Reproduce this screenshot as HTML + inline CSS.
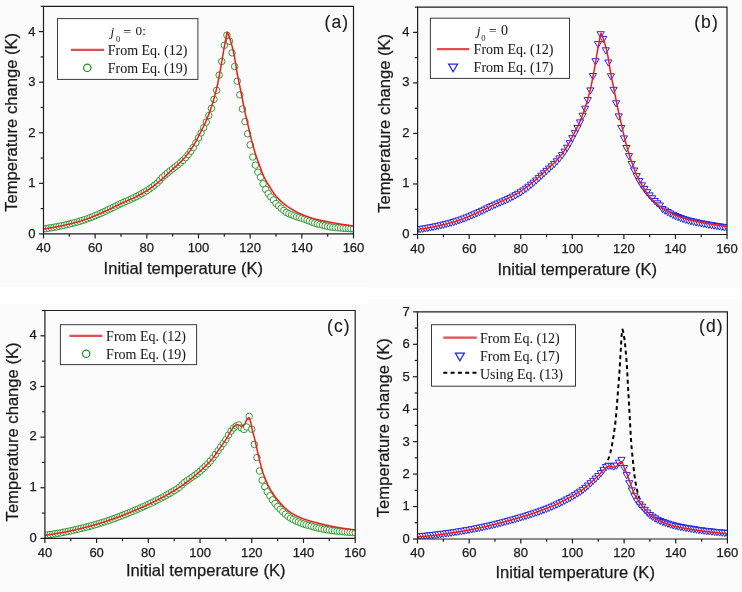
<!DOCTYPE html>
<html><head><meta charset="utf-8"><style>
html,body{margin:0;padding:0;background:#fff;overflow:hidden;}
svg{display:block;filter:blur(0.5px);}
text{stroke:#1a1a1a;stroke-width:0.25px;}
</style></head><body>
<svg width="742" height="592" viewBox="0 0 742 592">
<defs><clipPath id="ca"><rect x="43.5" y="6.31" width="310.00" height="227.59"/></clipPath><clipPath id="cb"><rect x="417.6" y="7.14" width="309.40" height="227.36"/></clipPath><clipPath id="cc"><rect x="44.9" y="310.48" width="310.30" height="227.92"/></clipPath><clipPath id="cd"><rect x="417.5" y="311.85" width="309.90" height="227.15"/></clipPath></defs>
<rect x="0" y="0" width="742" height="592" fill="#ffffff"/>
<rect x="0" y="0" width="368" height="286.6" fill="#fbfbfb"/>
<rect x="368" y="0" width="374" height="287.6" fill="#fbfbfb"/>
<rect x="0" y="304" width="368" height="288" fill="#fbfbfb"/>
<rect x="368" y="299" width="374" height="293" fill="#fbfbfb"/>
<g clip-path="url(#ca)" fill="#fff" stroke="#1c8e1c" stroke-width="0.9"><circle cx="43.50" cy="228.99" r="3.25"/>
<circle cx="46.08" cy="228.61" r="3.25"/>
<circle cx="48.67" cy="228.19" r="3.25"/>
<circle cx="51.25" cy="227.76" r="3.25"/>
<circle cx="53.83" cy="227.30" r="3.25"/>
<circle cx="56.42" cy="226.82" r="3.25"/>
<circle cx="59.00" cy="226.32" r="3.25"/>
<circle cx="61.58" cy="225.79" r="3.25"/>
<circle cx="64.17" cy="225.23" r="3.25"/>
<circle cx="66.75" cy="224.65" r="3.25"/>
<circle cx="69.33" cy="224.04" r="3.25"/>
<circle cx="71.92" cy="223.40" r="3.25"/>
<circle cx="74.50" cy="222.73" r="3.25"/>
<circle cx="77.08" cy="222.03" r="3.25"/>
<circle cx="79.67" cy="221.29" r="3.25"/>
<circle cx="82.25" cy="220.50" r="3.25"/>
<circle cx="84.83" cy="219.64" r="3.25"/>
<circle cx="87.42" cy="218.72" r="3.25"/>
<circle cx="90.00" cy="217.75" r="3.25"/>
<circle cx="92.58" cy="216.74" r="3.25"/>
<circle cx="95.17" cy="215.69" r="3.25"/>
<circle cx="97.75" cy="214.61" r="3.25"/>
<circle cx="100.33" cy="213.47" r="3.25"/>
<circle cx="102.92" cy="212.29" r="3.25"/>
<circle cx="105.50" cy="211.09" r="3.25"/>
<circle cx="108.08" cy="209.88" r="3.25"/>
<circle cx="110.67" cy="208.64" r="3.25"/>
<circle cx="113.25" cy="207.36" r="3.25"/>
<circle cx="115.83" cy="206.07" r="3.25"/>
<circle cx="118.42" cy="204.79" r="3.25"/>
<circle cx="121.00" cy="203.56" r="3.25"/>
<circle cx="123.58" cy="202.38" r="3.25"/>
<circle cx="126.17" cy="201.25" r="3.25"/>
<circle cx="128.75" cy="200.12" r="3.25"/>
<circle cx="131.33" cy="198.97" r="3.25"/>
<circle cx="133.92" cy="197.74" r="3.25"/>
<circle cx="136.50" cy="196.45" r="3.25"/>
<circle cx="139.08" cy="195.11" r="3.25"/>
<circle cx="141.67" cy="193.71" r="3.25"/>
<circle cx="144.25" cy="192.24" r="3.25"/>
<circle cx="146.83" cy="190.66" r="3.25"/>
<circle cx="149.42" cy="188.95" r="3.25"/>
<circle cx="152.00" cy="187.10" r="3.25"/>
<circle cx="154.58" cy="185.15" r="3.25"/>
<circle cx="157.17" cy="183.10" r="3.25"/>
<circle cx="159.75" cy="180.29" r="3.25"/>
<circle cx="162.33" cy="177.40" r="3.25"/>
<circle cx="164.92" cy="175.21" r="3.25"/>
<circle cx="167.50" cy="173.01" r="3.25"/>
<circle cx="170.08" cy="170.86" r="3.25"/>
<circle cx="172.67" cy="168.82" r="3.25"/>
<circle cx="175.25" cy="166.85" r="3.25"/>
<circle cx="177.83" cy="164.86" r="3.25"/>
<circle cx="180.42" cy="162.75" r="3.25"/>
<circle cx="183.00" cy="160.35" r="3.25"/>
<circle cx="185.58" cy="157.61" r="3.25"/>
<circle cx="188.17" cy="154.58" r="3.25"/>
<circle cx="190.75" cy="151.22" r="3.25"/>
<circle cx="193.33" cy="147.42" r="3.25"/>
<circle cx="195.92" cy="142.83" r="3.25"/>
<circle cx="198.50" cy="137.81" r="3.25"/>
<circle cx="201.08" cy="132.85" r="3.25"/>
<circle cx="203.67" cy="127.69" r="3.25"/>
<circle cx="206.25" cy="122.13" r="3.25"/>
<circle cx="208.83" cy="115.55" r="3.25"/>
<circle cx="211.42" cy="108.33" r="3.25"/>
<circle cx="214.00" cy="99.37" r="3.25"/>
<circle cx="216.58" cy="90.27" r="3.25"/>
<circle cx="219.17" cy="75.09" r="3.25"/>
<circle cx="221.75" cy="61.44" r="3.25"/>
<circle cx="224.33" cy="45.26" r="3.25"/>
<circle cx="226.92" cy="35.14" r="3.25"/>
<circle cx="229.50" cy="41.21" r="3.25"/>
<circle cx="232.08" cy="52.84" r="3.25"/>
<circle cx="234.67" cy="66.50" r="3.25"/>
<circle cx="237.25" cy="81.16" r="3.25"/>
<circle cx="239.83" cy="94.82" r="3.25"/>
<circle cx="242.42" cy="108.98" r="3.25"/>
<circle cx="245.00" cy="121.62" r="3.25"/>
<circle cx="247.58" cy="133.76" r="3.25"/>
<circle cx="250.17" cy="144.89" r="3.25"/>
<circle cx="252.75" cy="157.03" r="3.25"/>
<circle cx="255.33" cy="165.12" r="3.25"/>
<circle cx="257.92" cy="172.20" r="3.25"/>
<circle cx="260.50" cy="177.26" r="3.25"/>
<circle cx="263.08" cy="183.83" r="3.25"/>
<circle cx="265.67" cy="189.39" r="3.25"/>
<circle cx="268.25" cy="193.44" r="3.25"/>
<circle cx="270.83" cy="196.98" r="3.25"/>
<circle cx="273.42" cy="200.01" r="3.25"/>
<circle cx="276.00" cy="203.56" r="3.25"/>
<circle cx="278.58" cy="205.83" r="3.25"/>
<circle cx="281.17" cy="208.11" r="3.25"/>
<circle cx="283.75" cy="210.38" r="3.25"/>
<circle cx="286.33" cy="212.41" r="3.25"/>
<circle cx="288.92" cy="213.67" r="3.25"/>
<circle cx="291.50" cy="214.68" r="3.25"/>
<circle cx="294.08" cy="215.69" r="3.25"/>
<circle cx="296.67" cy="216.70" r="3.25"/>
<circle cx="299.25" cy="217.46" r="3.25"/>
<circle cx="301.83" cy="218.22" r="3.25"/>
<circle cx="304.42" cy="219.13" r="3.25"/>
<circle cx="307.00" cy="220.11" r="3.25"/>
<circle cx="309.58" cy="221.09" r="3.25"/>
<circle cx="312.17" cy="222.11" r="3.25"/>
<circle cx="314.75" cy="223.03" r="3.25"/>
<circle cx="317.33" cy="223.79" r="3.25"/>
<circle cx="319.92" cy="224.47" r="3.25"/>
<circle cx="322.50" cy="225.12" r="3.25"/>
<circle cx="325.08" cy="225.75" r="3.25"/>
<circle cx="327.67" cy="226.31" r="3.25"/>
<circle cx="330.25" cy="226.82" r="3.25"/>
<circle cx="332.83" cy="227.26" r="3.25"/>
<circle cx="335.42" cy="227.56" r="3.25"/>
<circle cx="338.00" cy="227.79" r="3.25"/>
<circle cx="340.58" cy="227.98" r="3.25"/>
<circle cx="343.17" cy="228.17" r="3.25"/>
<circle cx="345.75" cy="228.34" r="3.25"/>
<circle cx="348.33" cy="228.51" r="3.25"/>
<circle cx="350.92" cy="228.68" r="3.25"/>
<circle cx="353.50" cy="228.84" r="3.25"/></g>
<polyline points="43.50,228.99 43.76,228.96 44.02,228.92 44.28,228.88 44.53,228.84 44.79,228.80 45.05,228.76 45.31,228.73 45.57,228.69 45.83,228.65 46.09,228.61 46.34,228.57 46.60,228.53 46.86,228.48 47.12,228.44 47.38,228.40 47.64,228.36 47.90,228.32 48.15,228.28 48.41,228.24 48.67,228.19 48.93,228.15 49.19,228.11 49.45,228.06 49.71,228.02 49.96,227.98 50.22,227.93 50.48,227.89 50.74,227.84 51.00,227.80 51.26,227.76 51.52,227.71 51.77,227.67 52.03,227.62 52.29,227.57 52.55,227.53 52.81,227.48 53.07,227.44 53.32,227.39 53.58,227.34 53.84,227.30 54.10,227.25 54.36,227.20 54.62,227.15 54.88,227.11 55.13,227.06 55.39,227.01 55.65,226.96 55.91,226.91 56.17,226.87 56.43,226.82 56.69,226.77 56.94,226.72 57.20,226.67 57.46,226.62 57.72,226.57 57.98,226.52 58.24,226.47 58.50,226.42 58.75,226.37 59.01,226.31 59.27,226.26 59.53,226.21 59.79,226.16 60.05,226.11 60.31,226.05 60.56,226.00 60.82,225.95 61.08,225.89 61.34,225.84 61.60,225.78 61.86,225.73 62.12,225.68 62.37,225.62 62.63,225.57 62.89,225.51 63.15,225.45 63.41,225.40 63.67,225.34 63.93,225.28 64.18,225.23 64.44,225.17 64.70,225.11 64.96,225.06 65.22,225.00 65.48,224.94 65.74,224.88 65.99,224.82 66.25,224.76 66.51,224.70 66.77,224.64 67.03,224.58 67.29,224.52 67.55,224.46 67.80,224.40 68.06,224.34 68.32,224.28 68.58,224.22 68.84,224.16 69.10,224.09 69.35,224.03 69.61,223.97 69.87,223.91 70.13,223.84 70.39,223.78 70.65,223.72 70.91,223.65 71.16,223.59 71.42,223.53 71.68,223.46 71.94,223.40 72.20,223.33 72.46,223.26 72.72,223.20 72.97,223.13 73.23,223.07 73.49,223.00 73.75,222.93 74.01,222.86 74.27,222.80 74.53,222.73 74.78,222.66 75.04,222.59 75.30,222.52 75.56,222.45 75.82,222.38 76.08,222.31 76.34,222.24 76.59,222.17 76.85,222.10 77.11,222.02 77.37,221.95 77.63,221.88 77.89,221.81 78.15,221.73 78.40,221.66 78.66,221.58 78.92,221.51 79.18,221.43 79.44,221.36 79.70,221.28 79.96,221.20 80.21,221.12 80.47,221.05 80.73,220.97 80.99,220.89 81.25,220.81 81.51,220.73 81.77,220.65 82.02,220.57 82.28,220.49 82.54,220.41 82.80,220.32 83.06,220.24 83.32,220.15 83.58,220.07 83.83,219.98 84.09,219.90 84.35,219.81 84.61,219.72 84.87,219.63 85.13,219.54 85.38,219.45 85.64,219.36 85.90,219.27 86.16,219.18 86.42,219.09 86.68,218.99 86.94,218.90 87.19,218.81 87.45,218.71 87.71,218.62 87.97,218.52 88.23,218.42 88.49,218.33 88.75,218.23 89.00,218.13 89.26,218.03 89.52,217.93 89.78,217.84 90.04,217.74 90.30,217.64 90.56,217.54 90.81,217.43 91.07,217.33 91.33,217.23 91.59,217.13 91.85,217.03 92.11,216.93 92.37,216.82 92.62,216.72 92.88,216.62 93.14,216.51 93.40,216.41 93.66,216.30 93.92,216.20 94.18,216.10 94.43,215.99 94.69,215.89 94.95,215.78 95.21,215.68 95.47,215.57 95.73,215.46 95.99,215.36 96.24,215.25 96.50,215.14 96.76,215.03 97.02,214.92 97.28,214.81 97.54,214.70 97.80,214.59 98.05,214.48 98.31,214.36 98.57,214.25 98.83,214.14 99.09,214.02 99.35,213.91 99.61,213.80 99.86,213.68 100.12,213.56 100.38,213.45 100.64,213.33 100.90,213.21 101.16,213.10 101.41,212.98 101.67,212.86 101.93,212.74 102.19,212.63 102.45,212.51 102.71,212.39 102.97,212.27 103.22,212.15 103.48,212.03 103.74,211.91 104.00,211.79 104.26,211.67 104.52,211.55 104.78,211.43 105.03,211.31 105.29,211.19 105.55,211.06 105.81,210.94 106.07,210.82 106.33,210.70 106.59,210.58 106.84,210.46 107.10,210.34 107.36,210.22 107.62,210.09 107.88,209.97 108.14,209.85 108.40,209.73 108.65,209.61 108.91,209.48 109.17,209.36 109.43,209.24 109.69,209.11 109.95,208.99 110.21,208.86 110.46,208.74 110.72,208.61 110.98,208.48 111.24,208.36 111.50,208.23 111.76,208.10 112.02,207.97 112.27,207.85 112.53,207.72 112.79,207.59 113.05,207.46 113.31,207.33 113.57,207.20 113.83,207.07 114.08,206.94 114.34,206.82 114.60,206.69 114.86,206.56 115.12,206.43 115.38,206.30 115.64,206.17 115.89,206.04 116.15,205.91 116.41,205.78 116.67,205.66 116.93,205.53 117.19,205.40 117.44,205.27 117.70,205.14 117.96,205.02 118.22,204.89 118.48,204.76 118.74,204.64 119.00,204.51 119.25,204.39 119.51,204.26 119.77,204.14 120.03,204.01 120.29,203.89 120.55,203.77 120.81,203.65 121.06,203.52 121.32,203.40 121.58,203.28 121.84,203.17 122.10,203.05 122.36,202.93 122.62,202.81 122.87,202.70 123.13,202.58 123.39,202.46 123.65,202.35 123.91,202.23 124.17,202.12 124.43,202.01 124.68,201.89 124.94,201.78 125.20,201.67 125.46,201.56 125.72,201.44 125.98,201.33 126.24,201.22 126.49,201.11 126.75,200.99 127.01,200.88 127.27,200.77 127.53,200.66 127.79,200.55 128.05,200.43 128.30,200.32 128.56,200.21 128.82,200.09 129.08,199.98 129.34,199.87 129.60,199.75 129.86,199.64 130.11,199.52 130.37,199.40 130.63,199.29 130.89,199.17 131.15,199.05 131.41,198.93 131.67,198.81 131.92,198.69 132.18,198.57 132.44,198.45 132.70,198.33 132.96,198.21 133.22,198.08 133.47,197.96 133.73,197.83 133.99,197.70 134.25,197.57 134.51,197.45 134.77,197.32 135.03,197.19 135.28,197.06 135.54,196.93 135.80,196.80 136.06,196.67 136.32,196.54 136.58,196.41 136.84,196.28 137.09,196.14 137.35,196.01 137.61,195.88 137.87,195.74 138.13,195.61 138.39,195.48 138.65,195.34 138.90,195.21 139.16,195.07 139.42,194.93 139.68,194.79 139.94,194.66 140.20,194.52 140.46,194.38 140.71,194.24 140.97,194.10 141.23,193.95 141.49,193.81 141.75,193.67 142.01,193.52 142.27,193.38 142.52,193.23 142.78,193.09 143.04,192.94 143.30,192.79 143.56,192.64 143.82,192.49 144.08,192.34 144.33,192.19 144.59,192.03 144.85,191.88 145.11,191.72 145.37,191.57 145.63,191.41 145.89,191.25 146.14,191.09 146.40,190.93 146.66,190.77 146.92,190.60 147.18,190.44 147.44,190.27 147.70,190.10 147.95,189.93 148.21,189.76 148.47,189.59 148.73,189.42 148.99,189.24 149.25,189.07 149.51,188.89 149.76,188.71 150.02,188.53 150.28,188.34 150.54,188.16 150.80,187.98 151.06,187.79 151.31,187.60 151.57,187.42 151.83,187.23 152.09,187.04 152.35,186.84 152.61,186.65 152.87,186.46 153.12,186.26 153.38,186.07 153.64,185.87 153.90,185.67 154.16,185.47 154.42,185.27 154.68,185.07 154.93,184.87 155.19,184.67 155.45,184.47 155.71,184.26 155.97,184.06 156.23,183.85 156.49,183.65 156.74,183.44 157.00,183.23 157.26,183.03 157.52,182.82 157.78,182.61 158.04,182.40 158.30,182.19 158.55,181.98 158.81,181.77 159.07,181.56 159.33,181.34 159.59,181.13 159.85,180.92 160.11,180.70 160.36,180.49 160.62,180.27 160.88,180.05 161.14,179.83 161.40,179.61 161.66,179.38 161.92,179.16 162.17,178.93 162.43,178.70 162.69,178.47 162.95,178.24 163.21,178.01 163.47,177.77 163.73,177.54 163.98,177.30 164.24,177.07 164.50,176.83 164.76,176.59 165.02,176.35 165.28,176.11 165.54,175.87 165.79,175.63 166.05,175.39 166.31,175.15 166.57,174.90 166.83,174.66 167.09,174.42 167.34,174.17 167.60,173.93 167.86,173.68 168.12,173.44 168.38,173.19 168.64,172.95 168.90,172.70 169.15,172.46 169.41,172.21 169.67,171.97 169.93,171.73 170.19,171.48 170.45,171.24 170.71,170.99 170.96,170.75 171.22,170.51 171.48,170.27 171.74,170.02 172.00,169.78 172.26,169.54 172.52,169.30 172.77,169.06 173.03,168.83 173.29,168.59 173.55,168.36 173.81,168.13 174.07,167.90 174.33,167.67 174.58,167.44 174.84,167.21 175.10,166.98 175.36,166.75 175.62,166.53 175.88,166.30 176.14,166.07 176.39,165.85 176.65,165.62 176.91,165.39 177.17,165.17 177.43,164.94 177.69,164.71 177.95,164.48 178.20,164.25 178.46,164.01 178.72,163.78 178.98,163.54 179.24,163.30 179.50,163.07 179.76,162.82 180.01,162.58 180.27,162.33 180.53,162.09 180.79,161.83 181.05,161.58 181.31,161.32 181.57,161.06 181.82,160.80 182.08,160.53 182.34,160.26 182.60,159.99 182.86,159.71 183.12,159.43 183.37,159.14 183.63,158.86 183.89,158.56 184.15,158.27 184.41,157.98 184.67,157.68 184.93,157.38 185.18,157.07 185.44,156.77 185.70,156.46 185.96,156.14 186.22,155.83 186.48,155.51 186.74,155.19 186.99,154.86 187.25,154.53 187.51,154.20 187.77,153.87 188.03,153.53 188.29,153.19 188.55,152.85 188.80,152.50 189.06,152.15 189.32,151.80 189.58,151.44 189.84,151.09 190.10,150.72 190.36,150.36 190.61,149.99 190.87,149.62 191.13,149.24 191.39,148.86 191.65,148.48 191.91,148.09 192.17,147.70 192.42,147.31 192.68,146.91 192.94,146.51 193.20,146.11 193.46,145.70 193.72,145.28 193.98,144.85 194.23,144.41 194.49,143.95 194.75,143.49 195.01,143.02 195.27,142.54 195.53,142.05 195.79,141.56 196.04,141.07 196.30,140.57 196.56,140.06 196.82,139.56 197.08,139.05 197.34,138.55 197.60,138.04 197.85,137.54 198.11,137.04 198.37,136.54 198.63,136.04 198.89,135.55 199.15,135.06 199.40,134.56 199.66,134.07 199.92,133.57 200.18,133.08 200.44,132.58 200.70,132.08 200.96,131.58 201.21,131.08 201.47,130.57 201.73,130.06 201.99,129.56 202.25,129.04 202.51,128.53 202.77,128.01 203.02,127.49 203.28,126.96 203.54,126.43 203.80,125.90 204.06,125.37 204.32,124.83 204.58,124.29 204.83,123.74 205.09,123.19 205.35,122.63 205.61,122.07 205.87,121.49 206.13,120.90 206.39,120.29 206.64,119.67 206.90,119.04 207.16,118.39 207.42,117.74 207.68,117.07 207.94,116.40 208.20,115.72 208.45,115.04 208.71,114.36 208.97,113.67 209.23,112.99 209.49,112.31 209.75,111.63 210.01,110.94 210.26,110.24 210.52,109.53 210.78,108.81 211.04,108.07 211.30,107.31 211.56,106.53 211.82,105.73 212.07,104.91 212.33,104.07 212.59,103.22 212.85,102.35 213.11,101.46 213.37,100.57 213.63,99.67 213.88,98.77 214.14,97.86 214.40,96.95 214.66,96.05 214.92,95.13 215.18,94.20 215.43,93.26 215.69,92.30 215.95,91.30 216.21,90.28 216.47,89.23 216.73,88.13 216.99,86.98 217.24,85.79 217.50,84.56 217.76,83.30 218.02,82.00 218.28,80.69 218.54,79.36 218.80,78.03 219.05,76.69 219.31,75.34 219.57,73.99 219.83,72.61 220.09,71.21 220.35,69.80 220.61,68.37 220.86,66.93 221.12,65.49 221.38,64.03 221.64,62.57 221.90,61.10 222.16,59.59 222.42,58.06 222.67,56.51 222.93,54.96 223.19,53.40 223.45,51.86 223.71,50.33 223.97,48.83 224.23,47.37 224.48,45.95 224.74,44.54 225.00,43.15 225.26,41.77 225.52,40.41 225.78,39.07 226.04,37.74 226.29,36.43 226.55,35.14 226.81,33.87 227.07,32.61 227.33,32.41 227.59,32.95 227.85,33.52 228.10,34.11 228.36,34.74 228.62,35.39 228.88,36.06 229.14,36.76 229.40,37.48 229.66,38.23 229.91,38.99 230.17,39.77 230.43,40.57 230.69,41.39 230.95,42.22 231.21,43.09 231.46,43.98 231.72,44.91 231.98,45.87 232.24,46.86 232.50,47.89 232.76,48.94 233.02,50.03 233.27,51.16 233.53,52.32 233.79,53.51 234.05,54.74 234.31,56.02 234.57,57.42 234.83,58.93 235.08,60.51 235.34,62.16 235.60,63.84 235.86,65.53 236.12,67.21 236.38,68.85 236.64,70.43 236.89,71.93 237.15,73.33 237.41,74.69 237.67,76.01 237.93,77.29 238.19,78.56 238.45,79.80 238.70,81.03 238.96,82.26 239.22,83.48 239.48,84.71 239.74,85.96 240.00,87.22 240.26,88.50 240.51,89.80 240.77,91.10 241.03,92.41 241.29,93.71 241.55,95.02 241.81,96.32 242.07,97.62 242.32,98.91 242.58,100.19 242.84,101.48 243.10,102.77 243.36,104.06 243.62,105.35 243.88,106.63 244.13,107.89 244.39,109.15 244.65,110.38 244.91,111.59 245.17,112.79 245.43,113.96 245.69,115.11 245.94,116.26 246.20,117.39 246.46,118.51 246.72,119.62 246.98,120.72 247.24,121.83 247.49,122.93 247.75,124.03 248.01,125.14 248.27,126.25 248.53,127.37 248.79,128.50 249.05,129.63 249.30,130.75 249.56,131.87 249.82,132.99 250.08,134.09 250.34,135.18 250.60,136.25 250.86,137.30 251.11,138.33 251.37,139.34 251.63,140.34 251.89,141.33 252.15,142.32 252.41,143.29 252.67,144.26 252.92,145.21 253.18,146.15 253.44,147.08 253.70,148.00 253.96,148.91 254.22,149.80 254.48,150.68 254.73,151.54 254.99,152.39 255.25,153.23 255.51,154.04 255.77,154.84 256.03,155.63 256.29,156.40 256.54,157.15 256.80,157.90 257.06,158.63 257.32,159.36 257.58,160.08 257.84,160.79 258.10,161.50 258.35,162.21 258.61,162.91 258.87,163.61 259.13,164.31 259.39,165.01 259.65,165.71 259.91,166.42 260.16,167.14 260.42,167.86 260.68,168.60 260.94,169.34 261.20,170.08 261.46,170.81 261.72,171.53 261.97,172.23 262.23,172.92 262.49,173.58 262.75,174.21 263.01,174.81 263.27,175.38 263.53,175.93 263.78,176.47 264.04,177.00 264.30,177.52 264.56,178.03 264.82,178.53 265.08,179.02 265.33,179.50 265.59,179.97 265.85,180.44 266.11,180.90 266.37,181.35 266.63,181.79 266.89,182.23 267.14,182.67 267.40,183.10 267.66,183.52 267.92,183.94 268.18,184.36 268.44,184.78 268.70,185.20 268.95,185.61 269.21,186.02 269.47,186.43 269.73,186.85 269.99,187.26 270.25,187.67 270.51,188.09 270.76,188.50 271.02,188.91 271.28,189.32 271.54,189.73 271.80,190.14 272.06,190.54 272.32,190.94 272.57,191.34 272.83,191.73 273.09,192.12 273.35,192.50 273.61,192.88 273.87,193.25 274.13,193.62 274.38,193.98 274.64,194.33 274.90,194.68 275.16,195.02 275.42,195.35 275.68,195.68 275.94,195.99 276.19,196.30 276.45,196.60 276.71,196.90 276.97,197.19 277.23,197.48 277.49,197.77 277.75,198.05 278.00,198.32 278.26,198.59 278.52,198.86 278.78,199.13 279.04,199.39 279.30,199.64 279.56,199.90 279.81,200.15 280.07,200.39 280.33,200.64 280.59,200.88 280.85,201.12 281.11,201.35 281.36,201.58 281.62,201.82 281.88,202.04 282.14,202.27 282.40,202.49 282.66,202.71 282.92,202.93 283.17,203.15 283.43,203.37 283.69,203.58 283.95,203.79 284.21,204.00 284.47,204.20 284.73,204.41 284.98,204.61 285.24,204.81 285.50,205.01 285.76,205.20 286.02,205.39 286.28,205.58 286.54,205.77 286.79,205.96 287.05,206.14 287.31,206.32 287.57,206.50 287.83,206.68 288.09,206.85 288.35,207.03 288.60,207.20 288.86,207.36 289.12,207.53 289.38,207.70 289.64,207.86 289.90,208.02 290.16,208.19 290.41,208.35 290.67,208.51 290.93,208.67 291.19,208.83 291.45,208.99 291.71,209.14 291.97,209.30 292.22,209.45 292.48,209.61 292.74,209.76 293.00,209.91 293.26,210.07 293.52,210.22 293.78,210.37 294.03,210.51 294.29,210.66 294.55,210.81 294.81,210.95 295.07,211.10 295.33,211.24 295.59,211.38 295.84,211.52 296.10,211.66 296.36,211.80 296.62,211.94 296.88,212.07 297.14,212.21 297.39,212.34 297.65,212.47 297.91,212.60 298.17,212.73 298.43,212.86 298.69,212.99 298.95,213.11 299.20,213.24 299.46,213.36 299.72,213.48 299.98,213.60 300.24,213.72 300.50,213.84 300.76,213.96 301.01,214.07 301.27,214.19 301.53,214.30 301.79,214.41 302.05,214.52 302.31,214.63 302.57,214.74 302.82,214.84 303.08,214.95 303.34,215.06 303.60,215.16 303.86,215.27 304.12,215.37 304.38,215.47 304.63,215.57 304.89,215.67 305.15,215.78 305.41,215.87 305.67,215.97 305.93,216.07 306.19,216.17 306.44,216.27 306.70,216.36 306.96,216.46 307.22,216.55 307.48,216.64 307.74,216.74 308.00,216.83 308.25,216.92 308.51,217.01 308.77,217.10 309.03,217.19 309.29,217.27 309.55,217.36 309.81,217.45 310.06,217.53 310.32,217.61 310.58,217.70 310.84,217.78 311.10,217.86 311.36,217.94 311.62,218.02 311.87,218.10 312.13,218.18 312.39,218.26 312.65,218.34 312.91,218.41 313.17,218.49 313.42,218.56 313.68,218.64 313.94,218.71 314.20,218.78 314.46,218.85 314.72,218.92 314.98,218.99 315.23,219.06 315.49,219.13 315.75,219.19 316.01,219.26 316.27,219.33 316.53,219.39 316.79,219.45 317.04,219.52 317.30,219.58 317.56,219.64 317.82,219.71 318.08,219.77 318.34,219.83 318.60,219.89 318.85,219.95 319.11,220.01 319.37,220.06 319.63,220.12 319.89,220.18 320.15,220.24 320.41,220.29 320.66,220.35 320.92,220.40 321.18,220.46 321.44,220.51 321.70,220.57 321.96,220.62 322.22,220.68 322.47,220.73 322.73,220.78 322.99,220.84 323.25,220.89 323.51,220.94 323.77,220.99 324.03,221.05 324.28,221.10 324.54,221.15 324.80,221.20 325.06,221.25 325.32,221.30 325.58,221.35 325.84,221.40 326.09,221.45 326.35,221.51 326.61,221.56 326.87,221.61 327.13,221.66 327.39,221.71 327.65,221.76 327.90,221.81 328.16,221.86 328.42,221.91 328.68,221.96 328.94,222.01 329.20,222.06 329.45,222.11 329.71,222.15 329.97,222.20 330.23,222.25 330.49,222.30 330.75,222.35 331.01,222.39 331.26,222.44 331.52,222.49 331.78,222.54 332.04,222.58 332.30,222.63 332.56,222.67 332.82,222.72 333.07,222.77 333.33,222.81 333.59,222.86 333.85,222.90 334.11,222.95 334.37,222.99 334.63,223.04 334.88,223.08 335.14,223.13 335.40,223.17 335.66,223.22 335.92,223.26 336.18,223.30 336.44,223.35 336.69,223.39 336.95,223.44 337.21,223.48 337.47,223.52 337.73,223.57 337.99,223.61 338.25,223.65 338.50,223.70 338.76,223.74 339.02,223.78 339.28,223.82 339.54,223.87 339.80,223.91 340.06,223.95 340.31,223.99 340.57,224.04 340.83,224.08 341.09,224.12 341.35,224.16 341.61,224.20 341.87,224.25 342.12,224.29 342.38,224.33 342.64,224.37 342.90,224.41 343.16,224.45 343.42,224.50 343.68,224.54 343.93,224.58 344.19,224.62 344.45,224.66 344.71,224.70 344.97,224.74 345.23,224.78 345.48,224.82 345.74,224.86 346.00,224.90 346.26,224.94 346.52,224.98 346.78,225.02 347.04,225.06 347.29,225.10 347.55,225.14 347.81,225.18 348.07,225.22 348.33,225.26 348.59,225.29 348.85,225.33 349.10,225.37 349.36,225.41 349.62,225.45 349.88,225.49 350.14,225.53 350.40,225.56 350.66,225.60 350.91,225.64 351.17,225.68 351.43,225.71 351.69,225.75 351.95,225.79 352.21,225.83 352.47,225.86 352.72,225.90 352.98,225.94 353.24,225.97 353.50,226.01" fill="none" stroke="#ee1c1c" stroke-width="1.5" stroke-linejoin="round"/>
<path d="M43.5,6.3125 H353.5 V233.9 H43.5 Z" fill="none" stroke="#1e1e1e" stroke-width="1.2"/>
<line x1="43.50" y1="233.9" x2="43.50" y2="238.4" stroke="#1e1e1e" stroke-width="1.2"/>
<line x1="95.17" y1="233.9" x2="95.17" y2="238.4" stroke="#1e1e1e" stroke-width="1.2"/>
<line x1="146.83" y1="233.9" x2="146.83" y2="238.4" stroke="#1e1e1e" stroke-width="1.2"/>
<line x1="198.50" y1="233.9" x2="198.50" y2="238.4" stroke="#1e1e1e" stroke-width="1.2"/>
<line x1="250.17" y1="233.9" x2="250.17" y2="238.4" stroke="#1e1e1e" stroke-width="1.2"/>
<line x1="301.83" y1="233.9" x2="301.83" y2="238.4" stroke="#1e1e1e" stroke-width="1.2"/>
<line x1="353.50" y1="233.9" x2="353.50" y2="238.4" stroke="#1e1e1e" stroke-width="1.2"/>
<line x1="69.33" y1="233.9" x2="69.33" y2="236.70000000000002" stroke="#1e1e1e" stroke-width="1.2"/>
<line x1="121.00" y1="233.9" x2="121.00" y2="236.70000000000002" stroke="#1e1e1e" stroke-width="1.2"/>
<line x1="172.67" y1="233.9" x2="172.67" y2="236.70000000000002" stroke="#1e1e1e" stroke-width="1.2"/>
<line x1="224.33" y1="233.9" x2="224.33" y2="236.70000000000002" stroke="#1e1e1e" stroke-width="1.2"/>
<line x1="276.00" y1="233.9" x2="276.00" y2="236.70000000000002" stroke="#1e1e1e" stroke-width="1.2"/>
<line x1="327.67" y1="233.9" x2="327.67" y2="236.70000000000002" stroke="#1e1e1e" stroke-width="1.2"/>
<line x1="39.0" y1="233.90" x2="43.5" y2="233.90" stroke="#1e1e1e" stroke-width="1.2"/>
<line x1="39.0" y1="183.32" x2="43.5" y2="183.32" stroke="#1e1e1e" stroke-width="1.2"/>
<line x1="39.0" y1="132.75" x2="43.5" y2="132.75" stroke="#1e1e1e" stroke-width="1.2"/>
<line x1="39.0" y1="82.17" x2="43.5" y2="82.17" stroke="#1e1e1e" stroke-width="1.2"/>
<line x1="39.0" y1="31.60" x2="43.5" y2="31.60" stroke="#1e1e1e" stroke-width="1.2"/>
<line x1="40.7" y1="208.61" x2="43.5" y2="208.61" stroke="#1e1e1e" stroke-width="1.2"/>
<line x1="40.7" y1="158.04" x2="43.5" y2="158.04" stroke="#1e1e1e" stroke-width="1.2"/>
<line x1="40.7" y1="107.46" x2="43.5" y2="107.46" stroke="#1e1e1e" stroke-width="1.2"/>
<line x1="40.7" y1="56.89" x2="43.5" y2="56.89" stroke="#1e1e1e" stroke-width="1.2"/>
<line x1="40.7" y1="6.31" x2="43.5" y2="6.31" stroke="#1e1e1e" stroke-width="1.2"/>
<text x="43.50" y="252.30" text-anchor="middle" style="font-family:'Liberation Sans',sans-serif;font-size:13px" fill="#1a1a1a">40</text>
<text x="95.17" y="252.30" text-anchor="middle" style="font-family:'Liberation Sans',sans-serif;font-size:13px" fill="#1a1a1a">60</text>
<text x="146.83" y="252.30" text-anchor="middle" style="font-family:'Liberation Sans',sans-serif;font-size:13px" fill="#1a1a1a">80</text>
<text x="198.50" y="252.30" text-anchor="middle" style="font-family:'Liberation Sans',sans-serif;font-size:13px" fill="#1a1a1a">100</text>
<text x="250.17" y="252.30" text-anchor="middle" style="font-family:'Liberation Sans',sans-serif;font-size:13px" fill="#1a1a1a">120</text>
<text x="301.83" y="252.30" text-anchor="middle" style="font-family:'Liberation Sans',sans-serif;font-size:13px" fill="#1a1a1a">140</text>
<text x="353.50" y="252.30" text-anchor="middle" style="font-family:'Liberation Sans',sans-serif;font-size:13px" fill="#1a1a1a">160</text>
<text x="35.60" y="238.00" text-anchor="end" style="font-family:'Liberation Sans',sans-serif;font-size:13px" fill="#1a1a1a">0</text>
<text x="35.60" y="187.42" text-anchor="end" style="font-family:'Liberation Sans',sans-serif;font-size:13px" fill="#1a1a1a">1</text>
<text x="35.60" y="136.85" text-anchor="end" style="font-family:'Liberation Sans',sans-serif;font-size:13px" fill="#1a1a1a">2</text>
<text x="35.60" y="86.27" text-anchor="end" style="font-family:'Liberation Sans',sans-serif;font-size:13px" fill="#1a1a1a">3</text>
<text x="35.60" y="35.70" text-anchor="end" style="font-family:'Liberation Sans',sans-serif;font-size:13px" fill="#1a1a1a">4</text>
<text transform="translate(16.60,211.80) rotate(-90)" style="font-family:'Liberation Sans',sans-serif;font-size:16.6px" fill="#1a1a1a">Temperature change (K)</text>
<text x="103.60" y="273.90" style="font-family:'Liberation Sans',sans-serif;font-size:16.6px" fill="#1a1a1a">Initial temperature (K)</text>
<text x="324.60" y="27.60" style="font-family:'Liberation Sans',sans-serif;font-size:17.5px;letter-spacing:1.1px;stroke-width:0.12px" fill="#1a1a1a">(a)</text>
<rect x="57.5" y="18.6" width="140.4" height="60.8" fill="#fff" stroke="#3a3a3a" stroke-width="1.0"/>
<text x="110.60" y="36.10" style="font-family:'Liberation Serif',serif;stroke-width:0.05px;font-size:13px;font-style:italic" fill="#1a1a1a">j</text><text x="116.00" y="41.70" style="font-family:'Liberation Serif',serif;stroke-width:0.05px;font-size:8.5px" fill="#333">0</text><text x="123.60" y="35.50" style="font-family:'Liberation Serif',serif;stroke-width:0.05px;font-size:13.5px" fill="#1a1a1a">=</text><text x="135.60" y="35.20" style="font-family:'Liberation Serif',serif;stroke-width:0.05px;font-size:13.2px" fill="#1a1a1a">0:</text>
<line x1="70.9" y1="49.9" x2="104.1" y2="49.9" stroke="#dc5252" stroke-width="2.1"/>
<text x="107.70" y="55.10" style="font-family:'Liberation Serif',serif;stroke-width:0.05px;font-size:14px" fill="#1a1a1a">From Eq. (12)</text>
<circle cx="87.3" cy="67.8" r="3.7" fill="none" stroke="#1c8e1c" stroke-width="1.2"/>
<text x="107.70" y="72.80" style="font-family:'Liberation Serif',serif;stroke-width:0.05px;font-size:14px" fill="#1a1a1a">From Eq. (19)</text>
<g clip-path="url(#cb)" fill="#fff" stroke="#2323e6" stroke-width="1.0"><path d="M414.00,227.00 H421.20 L417.60,233.20 Z"/>
<path d="M416.58,226.63 H423.78 L420.18,232.83 Z"/>
<path d="M419.16,226.23 H426.36 L422.76,232.43 Z"/>
<path d="M421.74,225.81 H428.94 L425.34,232.01 Z"/>
<path d="M424.31,225.36 H431.51 L427.91,231.56 Z"/>
<path d="M426.89,224.89 H434.09 L430.49,231.09 Z"/>
<path d="M429.47,224.41 H436.67 L433.07,230.61 Z"/>
<path d="M432.05,223.89 H439.25 L435.65,230.09 Z"/>
<path d="M434.63,223.35 H441.83 L438.23,229.55 Z"/>
<path d="M437.20,222.78 H444.41 L440.81,228.98 Z"/>
<path d="M439.78,222.18 H446.98 L443.38,228.38 Z"/>
<path d="M442.36,221.56 H449.56 L445.96,227.76 Z"/>
<path d="M444.94,220.90 H452.14 L448.54,227.10 Z"/>
<path d="M447.52,220.21 H454.72 L451.12,226.41 Z"/>
<path d="M450.10,219.48 H457.30 L453.70,225.68 Z"/>
<path d="M452.68,218.71 H459.88 L456.28,224.91 Z"/>
<path d="M455.25,217.87 H462.45 L458.85,224.07 Z"/>
<path d="M457.83,216.96 H465.03 L461.43,223.16 Z"/>
<path d="M460.41,216.00 H467.61 L464.01,222.20 Z"/>
<path d="M462.99,215.00 H470.19 L466.59,221.20 Z"/>
<path d="M465.57,213.97 H472.77 L469.17,220.17 Z"/>
<path d="M468.14,212.92 H475.35 L471.75,219.12 Z"/>
<path d="M470.72,211.82 H477.92 L474.32,218.02 Z"/>
<path d="M473.30,210.68 H480.50 L476.90,216.88 Z"/>
<path d="M475.88,209.52 H483.08 L479.48,215.72 Z"/>
<path d="M478.46,208.35 H485.66 L482.06,214.55 Z"/>
<path d="M481.04,207.15 H488.24 L484.64,213.35 Z"/>
<path d="M483.62,205.91 H490.82 L487.22,212.11 Z"/>
<path d="M486.19,204.66 H493.39 L489.79,210.86 Z"/>
<path d="M488.77,203.42 H495.97 L492.37,209.62 Z"/>
<path d="M491.35,202.22 H498.55 L494.95,208.42 Z"/>
<path d="M493.93,201.08 H501.13 L497.53,207.28 Z"/>
<path d="M496.51,199.99 H503.71 L500.11,206.19 Z"/>
<path d="M499.08,198.91 H506.29 L502.69,205.11 Z"/>
<path d="M501.66,197.79 H508.86 L505.26,203.99 Z"/>
<path d="M504.24,196.60 H511.44 L507.84,202.80 Z"/>
<path d="M506.82,195.35 H514.02 L510.42,201.55 Z"/>
<path d="M509.40,194.05 H516.60 L513.00,200.25 Z"/>
<path d="M511.98,192.69 H519.18 L515.58,198.89 Z"/>
<path d="M514.55,191.26 H521.75 L518.15,197.46 Z"/>
<path d="M517.13,189.72 H524.33 L520.73,195.92 Z"/>
<path d="M519.71,188.02 H526.91 L523.31,194.22 Z"/>
<path d="M522.29,186.19 H529.49 L525.89,192.39 Z"/>
<path d="M524.87,184.25 H532.07 L528.47,190.45 Z"/>
<path d="M527.45,182.22 H534.65 L531.05,188.42 Z"/>
<path d="M530.02,180.13 H537.23 L533.62,186.33 Z"/>
<path d="M532.60,177.93 H539.80 L536.20,184.13 Z"/>
<path d="M535.18,175.61 H542.38 L538.78,181.81 Z"/>
<path d="M537.76,173.20 H544.96 L541.36,179.40 Z"/>
<path d="M540.34,170.77 H547.54 L543.94,176.97 Z"/>
<path d="M542.92,168.37 H550.12 L546.52,174.57 Z"/>
<path d="M545.50,166.07 H552.70 L549.10,172.27 Z"/>
<path d="M548.07,163.81 H555.27 L551.67,170.01 Z"/>
<path d="M550.65,161.45 H557.85 L554.25,167.65 Z"/>
<path d="M553.23,158.82 H560.43 L556.83,165.02 Z"/>
<path d="M555.81,155.88 H563.01 L559.41,162.08 Z"/>
<path d="M558.39,152.65 H565.59 L561.99,158.85 Z"/>
<path d="M560.97,149.11 H568.17 L564.57,155.31 Z"/>
<path d="M563.54,145.23 H570.74 L567.14,151.43 Z"/>
<path d="M566.12,140.66 H573.32 L569.72,146.86 Z"/>
<path d="M568.70,135.66 H575.90 L572.30,141.86 Z"/>
<path d="M571.28,130.67 H578.48 L574.88,136.87 Z"/>
<path d="M573.86,125.48 H581.06 L577.46,131.68 Z"/>
<path d="M576.43,119.88 H583.63 L580.03,126.08 Z"/>
<path d="M579.01,113.28 H586.21 L582.61,119.48 Z"/>
<path d="M581.59,106.17 H588.79 L585.19,112.37 Z"/>
<path d="M584.17,97.54 H591.37 L587.77,103.74 Z"/>
<path d="M586.75,87.91 H593.95 L590.35,94.11 Z"/>
<path d="M589.33,73.51 H596.53 L592.93,79.71 Z"/>
<path d="M591.90,58.71 H599.11 L595.50,64.91 Z"/>
<path d="M594.48,41.58 H601.68 L598.08,47.78 Z"/>
<path d="M597.06,31.73 H604.26 L600.66,37.93 Z"/>
<path d="M599.64,36.42 H606.84 L603.24,42.62 Z"/>
<path d="M602.22,47.79 H609.42 L605.82,53.99 Z"/>
<path d="M604.80,60.02 H612.00 L608.40,66.22 Z"/>
<path d="M607.38,73.76 H614.58 L610.98,79.96 Z"/>
<path d="M609.95,87.30 H617.15 L613.55,93.50 Z"/>
<path d="M612.53,100.79 H619.73 L616.13,106.99 Z"/>
<path d="M615.11,113.88 H622.31 L618.71,120.08 Z"/>
<path d="M617.69,125.50 H624.89 L621.29,131.70 Z"/>
<path d="M620.27,135.91 H627.47 L623.87,142.11 Z"/>
<path d="M622.84,145.51 H630.04 L626.44,151.71 Z"/>
<path d="M625.42,153.59 H632.62 L629.02,159.79 Z"/>
<path d="M628.00,161.42 H635.20 L631.60,167.62 Z"/>
<path d="M630.58,167.99 H637.78 L634.18,174.19 Z"/>
<path d="M633.16,173.55 H640.36 L636.76,179.75 Z"/>
<path d="M635.74,178.60 H642.94 L639.34,184.80 Z"/>
<path d="M638.31,182.79 H645.51 L641.91,188.99 Z"/>
<path d="M640.89,186.43 H648.09 L644.49,192.63 Z"/>
<path d="M643.47,189.72 H650.67 L647.07,195.92 Z"/>
<path d="M646.05,192.90 H653.25 L649.65,199.10 Z"/>
<path d="M648.63,195.78 H655.83 L652.23,201.98 Z"/>
<path d="M651.21,198.46 H658.41 L654.81,204.66 Z"/>
<path d="M653.78,200.83 H660.99 L657.38,207.03 Z"/>
<path d="M656.36,202.95 H663.56 L659.96,209.15 Z"/>
<path d="M658.94,206.44 H666.14 L662.54,212.64 Z"/>
<path d="M661.52,208.06 H668.72 L665.12,214.26 Z"/>
<path d="M664.10,209.58 H671.30 L667.70,215.78 Z"/>
<path d="M666.68,211.00 H673.88 L670.28,217.20 Z"/>
<path d="M669.25,212.30 H676.46 L672.86,218.50 Z"/>
<path d="M671.83,213.46 H679.03 L675.43,219.66 Z"/>
<path d="M674.41,214.52 H681.61 L678.01,220.72 Z"/>
<path d="M676.99,215.50 H684.19 L680.59,221.70 Z"/>
<path d="M679.57,216.40 H686.77 L683.17,222.60 Z"/>
<path d="M682.15,217.22 H689.35 L685.75,223.42 Z"/>
<path d="M684.73,217.96 H691.93 L688.33,224.16 Z"/>
<path d="M687.30,218.62 H694.50 L690.90,224.82 Z"/>
<path d="M689.88,219.21 H697.08 L693.48,225.41 Z"/>
<path d="M692.46,219.76 H699.66 L696.06,225.96 Z"/>
<path d="M695.04,220.28 H702.24 L698.64,226.48 Z"/>
<path d="M697.62,220.79 H704.82 L701.22,226.99 Z"/>
<path d="M700.19,221.28 H707.39 L703.79,227.48 Z"/>
<path d="M702.77,221.75 H709.97 L706.37,227.95 Z"/>
<path d="M705.35,222.20 H712.55 L708.95,228.40 Z"/>
<path d="M707.93,222.64 H715.13 L711.53,228.84 Z"/>
<path d="M710.51,223.06 H717.71 L714.11,229.26 Z"/>
<path d="M713.09,223.48 H720.29 L716.69,229.68 Z"/>
<path d="M715.66,223.89 H722.87 L719.26,230.09 Z"/>
<path d="M718.24,224.28 H725.44 L721.84,230.48 Z"/>
<path d="M720.82,224.66 H728.02 L724.42,230.86 Z"/>
<path d="M723.40,225.03 H730.60 L727.00,231.23 Z"/></g>
<polyline points="417.60,229.60 417.86,229.56 418.12,229.52 418.37,229.49 418.63,229.45 418.89,229.41 419.15,229.37 419.41,229.33 419.66,229.29 419.92,229.25 420.18,229.21 420.44,229.17 420.70,229.13 420.95,229.09 421.21,229.05 421.47,229.01 421.73,228.97 421.99,228.93 422.24,228.88 422.50,228.84 422.76,228.80 423.02,228.76 423.28,228.71 423.54,228.67 423.79,228.63 424.05,228.58 424.31,228.54 424.57,228.50 424.83,228.45 425.08,228.41 425.34,228.36 425.60,228.32 425.86,228.27 426.12,228.23 426.37,228.18 426.63,228.14 426.89,228.09 427.15,228.04 427.41,228.00 427.66,227.95 427.92,227.90 428.18,227.86 428.44,227.81 428.70,227.76 428.95,227.71 429.21,227.67 429.47,227.62 429.73,227.57 429.99,227.52 430.24,227.47 430.50,227.42 430.76,227.38 431.02,227.33 431.28,227.28 431.53,227.23 431.79,227.18 432.05,227.13 432.31,227.08 432.57,227.02 432.82,226.97 433.08,226.92 433.34,226.87 433.60,226.82 433.86,226.77 434.12,226.71 434.37,226.66 434.63,226.61 434.89,226.55 435.15,226.50 435.41,226.45 435.66,226.39 435.92,226.34 436.18,226.28 436.44,226.23 436.70,226.17 436.95,226.12 437.21,226.06 437.47,226.01 437.73,225.95 437.99,225.89 438.24,225.84 438.50,225.78 438.76,225.72 439.02,225.66 439.28,225.61 439.53,225.55 439.79,225.49 440.05,225.43 440.31,225.37 440.57,225.31 440.82,225.25 441.08,225.19 441.34,225.13 441.60,225.07 441.86,225.01 442.11,224.95 442.37,224.89 442.63,224.83 442.89,224.77 443.15,224.70 443.40,224.64 443.66,224.58 443.92,224.52 444.18,224.45 444.44,224.39 444.70,224.33 444.95,224.26 445.21,224.20 445.47,224.14 445.73,224.07 445.99,224.01 446.24,223.94 446.50,223.87 446.76,223.81 447.02,223.74 447.28,223.68 447.53,223.61 447.79,223.54 448.05,223.47 448.31,223.41 448.57,223.34 448.82,223.27 449.08,223.20 449.34,223.13 449.60,223.06 449.86,222.99 450.11,222.92 450.37,222.85 450.63,222.78 450.89,222.71 451.15,222.64 451.40,222.56 451.66,222.49 451.92,222.42 452.18,222.34 452.44,222.27 452.69,222.19 452.95,222.12 453.21,222.04 453.47,221.97 453.73,221.89 453.98,221.81 454.24,221.74 454.50,221.66 454.76,221.58 455.02,221.50 455.28,221.42 455.53,221.34 455.79,221.26 456.05,221.18 456.31,221.10 456.57,221.02 456.82,220.94 457.08,220.85 457.34,220.77 457.60,220.68 457.86,220.60 458.11,220.51 458.37,220.42 458.63,220.34 458.89,220.25 459.15,220.16 459.40,220.07 459.66,219.98 459.92,219.89 460.18,219.79 460.44,219.70 460.69,219.61 460.95,219.51 461.21,219.42 461.47,219.33 461.73,219.23 461.98,219.14 462.24,219.04 462.50,218.94 462.76,218.84 463.02,218.75 463.27,218.65 463.53,218.55 463.79,218.45 464.05,218.35 464.31,218.25 464.56,218.15 464.82,218.05 465.08,217.95 465.34,217.85 465.60,217.75 465.86,217.64 466.11,217.54 466.37,217.44 466.63,217.34 466.89,217.23 467.15,217.13 467.40,217.03 467.66,216.92 467.92,216.82 468.18,216.71 468.44,216.61 468.69,216.50 468.95,216.40 469.21,216.29 469.47,216.19 469.73,216.08 469.98,215.97 470.24,215.87 470.50,215.76 470.76,215.65 471.02,215.54 471.27,215.43 471.53,215.32 471.79,215.21 472.05,215.10 472.31,214.98 472.56,214.87 472.82,214.76 473.08,214.64 473.34,214.53 473.60,214.42 473.85,214.30 474.11,214.18 474.37,214.07 474.63,213.95 474.89,213.84 475.14,213.72 475.40,213.60 475.66,213.48 475.92,213.37 476.18,213.25 476.44,213.13 476.69,213.01 476.95,212.89 477.21,212.77 477.47,212.65 477.73,212.53 477.98,212.41 478.24,212.29 478.50,212.17 478.76,212.05 479.02,211.93 479.27,211.81 479.53,211.69 479.79,211.57 480.05,211.45 480.31,211.32 480.56,211.20 480.82,211.08 481.08,210.96 481.34,210.84 481.60,210.72 481.85,210.60 482.11,210.48 482.37,210.35 482.63,210.23 482.89,210.11 483.14,209.99 483.40,209.86 483.66,209.74 483.92,209.61 484.18,209.49 484.43,209.36 484.69,209.24 484.95,209.11 485.21,208.98 485.47,208.85 485.72,208.73 485.98,208.60 486.24,208.47 486.50,208.34 486.76,208.22 487.02,208.09 487.27,207.96 487.53,207.83 487.79,207.70 488.05,207.57 488.31,207.44 488.56,207.31 488.82,207.18 489.08,207.06 489.34,206.93 489.60,206.80 489.85,206.67 490.11,206.54 490.37,206.41 490.63,206.28 490.89,206.16 491.14,206.03 491.40,205.90 491.66,205.77 491.92,205.65 492.18,205.52 492.43,205.39 492.69,205.27 492.95,205.14 493.21,205.02 493.47,204.89 493.72,204.77 493.98,204.64 494.24,204.52 494.50,204.40 494.76,204.28 495.01,204.15 495.27,204.03 495.53,203.91 495.79,203.80 496.05,203.68 496.30,203.56 496.56,203.44 496.82,203.33 497.08,203.21 497.34,203.10 497.59,202.98 497.85,202.87 498.11,202.75 498.37,202.64 498.63,202.53 498.89,202.41 499.14,202.30 499.40,202.19 499.66,202.08 499.92,201.96 500.18,201.85 500.43,201.74 500.69,201.63 500.95,201.51 501.21,201.40 501.47,201.29 501.72,201.18 501.98,201.07 502.24,200.95 502.50,200.84 502.76,200.73 503.01,200.61 503.27,200.50 503.53,200.38 503.79,200.27 504.05,200.15 504.30,200.04 504.56,199.92 504.82,199.80 505.08,199.69 505.34,199.57 505.59,199.45 505.85,199.33 506.11,199.21 506.37,199.09 506.63,198.96 506.88,198.84 507.14,198.72 507.40,198.59 507.66,198.46 507.92,198.34 508.17,198.21 508.43,198.08 508.69,197.95 508.95,197.82 509.21,197.70 509.47,197.57 509.72,197.44 509.98,197.31 510.24,197.18 510.50,197.04 510.76,196.91 511.01,196.78 511.27,196.65 511.53,196.52 511.79,196.38 512.05,196.25 512.30,196.11 512.56,195.98 512.82,195.84 513.08,195.71 513.34,195.57 513.59,195.43 513.85,195.30 514.11,195.16 514.37,195.02 514.63,194.88 514.88,194.74 515.14,194.59 515.40,194.45 515.66,194.31 515.92,194.16 516.17,194.02 516.43,193.87 516.69,193.73 516.95,193.58 517.21,193.43 517.46,193.28 517.72,193.13 517.98,192.98 518.24,192.83 518.50,192.67 518.75,192.52 519.01,192.36 519.27,192.21 519.53,192.05 519.79,191.89 520.05,191.73 520.30,191.57 520.56,191.41 520.82,191.25 521.08,191.08 521.34,190.92 521.59,190.75 521.85,190.58 522.11,190.41 522.37,190.24 522.63,190.06 522.88,189.89 523.14,189.71 523.40,189.53 523.66,189.35 523.92,189.17 524.17,188.99 524.43,188.81 524.69,188.62 524.95,188.44 525.21,188.25 525.46,188.06 525.72,187.87 525.98,187.68 526.24,187.49 526.50,187.30 526.75,187.10 527.01,186.91 527.27,186.71 527.53,186.52 527.79,186.32 528.04,186.12 528.30,185.92 528.56,185.72 528.82,185.52 529.08,185.32 529.33,185.12 529.59,184.91 529.85,184.71 530.11,184.50 530.37,184.30 530.63,184.09 530.88,183.88 531.14,183.68 531.40,183.47 531.66,183.26 531.92,183.05 532.17,182.84 532.43,182.63 532.69,182.42 532.95,182.21 533.21,182.00 533.46,181.78 533.72,181.57 533.98,181.36 534.24,181.14 534.50,180.92 534.75,180.70 535.01,180.48 535.27,180.26 535.53,180.04 535.79,179.81 536.04,179.58 536.30,179.35 536.56,179.13 536.82,178.89 537.08,178.66 537.33,178.43 537.59,178.19 537.85,177.96 538.11,177.72 538.37,177.49 538.62,177.25 538.88,177.01 539.14,176.77 539.40,176.53 539.66,176.29 539.91,176.05 540.17,175.80 540.43,175.56 540.69,175.32 540.95,175.08 541.21,174.83 541.46,174.59 541.72,174.34 541.98,174.10 542.24,173.85 542.50,173.61 542.75,173.36 543.01,173.12 543.27,172.88 543.53,172.63 543.79,172.39 544.04,172.14 544.30,171.90 544.56,171.66 544.82,171.41 545.08,171.17 545.33,170.93 545.59,170.69 545.85,170.45 546.11,170.21 546.37,169.97 546.62,169.73 546.88,169.49 547.14,169.26 547.40,169.02 547.66,168.79 547.91,168.56 548.17,168.33 548.43,168.10 548.69,167.87 548.95,167.65 549.20,167.42 549.46,167.19 549.72,166.97 549.98,166.74 550.24,166.51 550.49,166.29 550.75,166.06 551.01,165.83 551.27,165.60 551.53,165.38 551.79,165.15 552.04,164.91 552.30,164.68 552.56,164.45 552.82,164.21 553.08,163.97 553.33,163.74 553.59,163.49 553.85,163.25 554.11,163.00 554.37,162.76 554.62,162.51 554.88,162.25 555.14,161.99 555.40,161.73 555.66,161.47 555.91,161.20 556.17,160.93 556.43,160.66 556.69,160.38 556.95,160.10 557.20,159.82 557.46,159.53 557.72,159.24 557.98,158.95 558.24,158.65 558.49,158.35 558.75,158.05 559.01,157.75 559.27,157.44 559.53,157.13 559.78,156.82 560.04,156.50 560.30,156.19 560.56,155.86 560.82,155.54 561.07,155.21 561.33,154.88 561.59,154.55 561.85,154.21 562.11,153.87 562.37,153.53 562.62,153.18 562.88,152.83 563.14,152.48 563.40,152.13 563.66,151.77 563.91,151.40 564.17,151.04 564.43,150.67 564.69,150.30 564.95,149.92 565.20,149.54 565.46,149.16 565.72,148.78 565.98,148.39 566.24,147.99 566.49,147.60 566.75,147.20 567.01,146.80 567.27,146.39 567.53,145.97 567.78,145.54 568.04,145.09 568.30,144.64 568.56,144.18 568.82,143.71 569.07,143.23 569.33,142.74 569.59,142.25 569.85,141.76 570.11,141.26 570.36,140.76 570.62,140.25 570.88,139.75 571.14,139.24 571.40,138.73 571.65,138.23 571.91,137.73 572.17,137.23 572.43,136.74 572.69,136.25 572.95,135.75 573.20,135.26 573.46,134.77 573.72,134.27 573.98,133.78 574.24,133.28 574.49,132.78 574.75,132.28 575.01,131.78 575.27,131.27 575.53,130.77 575.78,130.26 576.04,129.75 576.30,129.23 576.56,128.71 576.82,128.19 577.07,127.67 577.33,127.14 577.59,126.61 577.85,126.07 578.11,125.54 578.36,125.00 578.62,124.45 578.88,123.90 579.14,123.34 579.40,122.78 579.65,122.20 579.91,121.61 580.17,121.01 580.43,120.39 580.69,119.75 580.94,119.11 581.20,118.45 581.46,117.79 581.72,117.11 581.98,116.44 582.23,115.76 582.49,115.07 582.75,114.39 583.01,113.71 583.27,113.03 583.53,112.35 583.78,111.66 584.04,110.96 584.30,110.25 584.56,109.53 584.82,108.79 585.07,108.04 585.33,107.26 585.59,106.46 585.85,105.64 586.11,104.80 586.36,103.94 586.62,103.08 586.88,102.19 587.14,101.30 587.40,100.41 587.65,99.50 587.91,98.59 588.17,97.69 588.43,96.78 588.69,95.87 588.94,94.94 589.20,94.00 589.46,93.04 589.72,92.05 589.98,91.03 590.23,89.97 590.49,88.88 590.75,87.73 591.01,86.54 591.27,85.31 591.52,84.04 591.78,82.75 592.04,81.44 592.30,80.12 592.56,78.78 592.81,77.44 593.07,76.10 593.33,74.74 593.59,73.37 593.85,71.97 594.11,70.56 594.36,69.13 594.62,67.70 594.88,66.25 595.14,64.80 595.40,63.34 595.65,61.87 595.91,60.36 596.17,58.84 596.43,57.29 596.69,55.74 596.94,54.18 597.20,52.64 597.46,51.11 597.72,49.62 597.98,48.15 598.23,46.73 598.49,45.33 598.75,43.94 599.01,42.56 599.27,41.20 599.52,39.86 599.78,38.54 600.04,37.23 600.30,35.94 600.56,34.66 600.81,33.41 601.07,33.21 601.33,33.75 601.59,34.31 601.85,34.91 602.10,35.53 602.36,36.18 602.62,36.86 602.88,37.56 603.14,38.28 603.39,39.02 603.65,39.78 603.91,40.56 604.17,41.36 604.43,42.18 604.69,43.01 604.94,43.87 605.20,44.77 605.46,45.70 605.72,46.65 605.98,47.65 606.23,48.67 606.49,49.73 606.75,50.82 607.01,51.94 607.27,53.10 607.52,54.29 607.78,55.51 608.04,56.79 608.30,58.19 608.56,59.70 608.81,61.29 609.07,62.93 609.33,64.61 609.59,66.30 609.85,67.97 610.10,69.61 610.36,71.19 610.62,72.69 610.88,74.09 611.14,75.45 611.39,76.76 611.65,78.05 611.91,79.31 612.17,80.55 612.43,81.78 612.68,83.01 612.94,84.23 613.20,85.46 613.46,86.70 613.72,87.96 613.97,89.25 614.23,90.54 614.49,91.84 614.75,93.15 615.01,94.45 615.27,95.76 615.52,97.06 615.78,98.35 616.04,99.64 616.30,100.93 616.56,102.21 616.81,103.50 617.07,104.79 617.33,106.08 617.59,107.35 617.85,108.62 618.10,109.87 618.36,111.10 618.62,112.32 618.88,113.51 619.14,114.68 619.39,115.83 619.65,116.97 619.91,118.10 620.17,119.22 620.43,120.33 620.68,121.44 620.94,122.54 621.20,123.64 621.46,124.74 621.72,125.85 621.97,126.96 622.23,128.08 622.49,129.20 622.75,130.33 623.01,131.45 623.26,132.57 623.52,133.69 623.78,134.79 624.04,135.88 624.30,136.95 624.55,138.00 624.81,139.03 625.07,140.03 625.33,141.03 625.59,142.03 625.85,143.01 626.10,143.98 626.36,144.94 626.62,145.90 626.88,146.84 627.14,147.77 627.39,148.69 627.65,149.59 627.91,150.48 628.17,151.36 628.43,152.23 628.68,153.07 628.94,153.91 629.20,154.72 629.46,155.52 629.72,156.30 629.97,157.07 630.23,157.83 630.49,158.57 630.75,159.31 631.01,160.04 631.26,160.75 631.52,161.47 631.78,162.17 632.04,162.88 632.30,163.58 632.55,164.28 632.81,164.98 633.07,165.68 633.33,166.38 633.59,167.09 633.84,167.80 634.10,168.53 634.36,169.26 634.62,170.00 634.88,170.74 635.13,171.47 635.39,172.19 635.65,172.90 635.91,173.58 636.17,174.24 636.43,174.87 636.68,175.47 636.94,176.04 637.20,176.59 637.46,177.13 637.72,177.66 637.97,178.18 638.23,178.69 638.49,179.19 638.75,179.67 639.01,180.16 639.26,180.63 639.52,181.09 639.78,181.55 640.04,182.00 640.30,182.44 640.55,182.88 640.81,183.32 641.07,183.75 641.33,184.17 641.59,184.59 641.84,185.01 642.10,185.43 642.36,185.84 642.62,186.26 642.88,186.67 643.13,187.08 643.39,187.49 643.65,187.91 643.91,188.32 644.17,188.73 644.42,189.14 644.68,189.56 644.94,189.97 645.20,190.37 645.46,190.78 645.71,191.18 645.97,191.58 646.23,191.98 646.49,192.37 646.75,192.76 647.01,193.14 647.26,193.52 647.52,193.89 647.78,194.26 648.04,194.62 648.30,194.97 648.55,195.32 648.81,195.66 649.07,195.99 649.33,196.32 649.59,196.63 649.84,196.94 650.10,197.24 650.36,197.54 650.62,197.83 650.88,198.12 651.13,198.40 651.39,198.68 651.65,198.96 651.91,199.23 652.17,199.50 652.42,199.76 652.68,200.02 652.94,200.28 653.20,200.53 653.46,200.78 653.71,201.03 653.97,201.27 654.23,201.51 654.49,201.75 654.75,201.98 655.00,202.22 655.26,202.45 655.52,202.67 655.78,202.90 656.04,203.12 656.29,203.34 656.55,203.56 656.81,203.78 657.07,204.00 657.33,204.21 657.58,204.42 657.84,204.63 658.10,204.83 658.36,205.04 658.62,205.24 658.88,205.44 659.13,205.63 659.39,205.83 659.65,206.02 659.91,206.21 660.17,206.40 660.42,206.59 660.68,206.77 660.94,206.95 661.20,207.13 661.46,207.31 661.71,207.48 661.97,207.65 662.23,207.82 662.49,207.99 662.75,208.16 663.00,208.32 663.26,208.49 663.52,208.65 663.78,208.81 664.04,208.97 664.29,209.13 664.55,209.29 664.81,209.45 665.07,209.61 665.33,209.77 665.58,209.92 665.84,210.08 666.10,210.23 666.36,210.39 666.62,210.54 666.87,210.69 667.13,210.84 667.39,210.99 667.65,211.14 667.91,211.28 668.16,211.43 668.42,211.57 668.68,211.72 668.94,211.86 669.20,212.00 669.46,212.14 669.71,212.28 669.97,212.42 670.23,212.56 670.49,212.69 670.75,212.83 671.00,212.96 671.26,213.09 671.52,213.22 671.78,213.35 672.04,213.48 672.29,213.61 672.55,213.74 672.81,213.86 673.07,213.98 673.33,214.10 673.58,214.22 673.84,214.34 674.10,214.46 674.36,214.58 674.62,214.69 674.87,214.81 675.13,214.92 675.39,215.03 675.65,215.14 675.91,215.25 676.16,215.36 676.42,215.46 676.68,215.57 676.94,215.68 677.20,215.78 677.45,215.88 677.71,215.99 677.97,216.09 678.23,216.19 678.49,216.29 678.74,216.39 679.00,216.49 679.26,216.59 679.52,216.69 679.78,216.79 680.04,216.88 680.29,216.98 680.55,217.07 680.81,217.17 681.07,217.26 681.33,217.35 681.58,217.44 681.84,217.53 682.10,217.62 682.36,217.71 682.62,217.80 682.87,217.89 683.13,217.98 683.39,218.06 683.65,218.15 683.91,218.23 684.16,218.31 684.42,218.40 684.68,218.48 684.94,218.56 685.20,218.64 685.45,218.72 685.71,218.80 685.97,218.88 686.23,218.95 686.49,219.03 686.74,219.10 687.00,219.18 687.26,219.25 687.52,219.32 687.78,219.39 688.03,219.47 688.29,219.54 688.55,219.61 688.81,219.67 689.07,219.74 689.32,219.81 689.58,219.87 689.84,219.94 690.10,220.00 690.36,220.07 690.62,220.13 690.87,220.20 691.13,220.26 691.39,220.32 691.65,220.38 691.91,220.44 692.16,220.50 692.42,220.56 692.68,220.62 692.94,220.68 693.20,220.74 693.45,220.79 693.71,220.85 693.97,220.91 694.23,220.96 694.49,221.02 694.74,221.07 695.00,221.13 695.26,221.18 695.52,221.24 695.78,221.29 696.03,221.34 696.29,221.40 696.55,221.45 696.81,221.50 697.07,221.55 697.32,221.61 697.58,221.66 697.84,221.71 698.10,221.76 698.36,221.81 698.61,221.86 698.87,221.91 699.13,221.97 699.39,222.02 699.65,222.07 699.90,222.12 700.16,222.17 700.42,222.22 700.68,222.27 700.94,222.32 701.20,222.37 701.45,222.42 701.71,222.47 701.97,222.52 702.23,222.57 702.49,222.62 702.74,222.67 703.00,222.72 703.26,222.77 703.52,222.81 703.78,222.86 704.03,222.91 704.29,222.96 704.55,223.01 704.81,223.05 705.07,223.10 705.32,223.15 705.58,223.19 705.84,223.24 706.10,223.29 706.36,223.33 706.61,223.38 706.87,223.42 707.13,223.47 707.39,223.51 707.65,223.56 707.90,223.60 708.16,223.65 708.42,223.69 708.68,223.74 708.94,223.78 709.19,223.83 709.45,223.87 709.71,223.92 709.97,223.96 710.23,224.00 710.48,224.05 710.74,224.09 711.00,224.13 711.26,224.18 711.52,224.22 711.78,224.26 712.03,224.31 712.29,224.35 712.55,224.39 712.81,224.43 713.07,224.48 713.32,224.52 713.58,224.56 713.84,224.60 714.10,224.65 714.36,224.69 714.61,224.73 714.87,224.77 715.13,224.81 715.39,224.86 715.65,224.90 715.90,224.94 716.16,224.98 716.42,225.02 716.68,225.06 716.94,225.10 717.19,225.15 717.45,225.19 717.71,225.23 717.97,225.27 718.23,225.31 718.48,225.35 718.74,225.39 719.00,225.43 719.26,225.47 719.52,225.51 719.77,225.55 720.03,225.59 720.29,225.63 720.55,225.67 720.81,225.71 721.06,225.75 721.32,225.79 721.58,225.83 721.84,225.86 722.10,225.90 722.36,225.94 722.61,225.98 722.87,226.02 723.13,226.06 723.39,226.10 723.65,226.13 723.90,226.17 724.16,226.21 724.42,226.25 724.68,226.29 724.94,226.32 725.19,226.36 725.45,226.40 725.71,226.43 725.97,226.47 726.23,226.51 726.48,226.55 726.74,226.58 727.00,226.62" fill="none" stroke="#ee1c1c" stroke-width="1.5" stroke-linejoin="round"/>
<path d="M417.6,7.137500000000017 H727.0 V234.5 H417.6 Z" fill="none" stroke="#1e1e1e" stroke-width="1.2"/>
<line x1="417.60" y1="234.5" x2="417.60" y2="239.0" stroke="#1e1e1e" stroke-width="1.2"/>
<line x1="469.17" y1="234.5" x2="469.17" y2="239.0" stroke="#1e1e1e" stroke-width="1.2"/>
<line x1="520.73" y1="234.5" x2="520.73" y2="239.0" stroke="#1e1e1e" stroke-width="1.2"/>
<line x1="572.30" y1="234.5" x2="572.30" y2="239.0" stroke="#1e1e1e" stroke-width="1.2"/>
<line x1="623.87" y1="234.5" x2="623.87" y2="239.0" stroke="#1e1e1e" stroke-width="1.2"/>
<line x1="675.43" y1="234.5" x2="675.43" y2="239.0" stroke="#1e1e1e" stroke-width="1.2"/>
<line x1="727.00" y1="234.5" x2="727.00" y2="239.0" stroke="#1e1e1e" stroke-width="1.2"/>
<line x1="443.38" y1="234.5" x2="443.38" y2="237.3" stroke="#1e1e1e" stroke-width="1.2"/>
<line x1="494.95" y1="234.5" x2="494.95" y2="237.3" stroke="#1e1e1e" stroke-width="1.2"/>
<line x1="546.52" y1="234.5" x2="546.52" y2="237.3" stroke="#1e1e1e" stroke-width="1.2"/>
<line x1="598.08" y1="234.5" x2="598.08" y2="237.3" stroke="#1e1e1e" stroke-width="1.2"/>
<line x1="649.65" y1="234.5" x2="649.65" y2="237.3" stroke="#1e1e1e" stroke-width="1.2"/>
<line x1="701.22" y1="234.5" x2="701.22" y2="237.3" stroke="#1e1e1e" stroke-width="1.2"/>
<line x1="413.1" y1="234.50" x2="417.6" y2="234.50" stroke="#1e1e1e" stroke-width="1.2"/>
<line x1="413.1" y1="183.97" x2="417.6" y2="183.97" stroke="#1e1e1e" stroke-width="1.2"/>
<line x1="413.1" y1="133.45" x2="417.6" y2="133.45" stroke="#1e1e1e" stroke-width="1.2"/>
<line x1="413.1" y1="82.93" x2="417.6" y2="82.93" stroke="#1e1e1e" stroke-width="1.2"/>
<line x1="413.1" y1="32.40" x2="417.6" y2="32.40" stroke="#1e1e1e" stroke-width="1.2"/>
<line x1="414.8" y1="209.24" x2="417.6" y2="209.24" stroke="#1e1e1e" stroke-width="1.2"/>
<line x1="414.8" y1="158.71" x2="417.6" y2="158.71" stroke="#1e1e1e" stroke-width="1.2"/>
<line x1="414.8" y1="108.19" x2="417.6" y2="108.19" stroke="#1e1e1e" stroke-width="1.2"/>
<line x1="414.8" y1="57.66" x2="417.6" y2="57.66" stroke="#1e1e1e" stroke-width="1.2"/>
<line x1="414.8" y1="7.14" x2="417.6" y2="7.14" stroke="#1e1e1e" stroke-width="1.2"/>
<text x="417.60" y="252.90" text-anchor="middle" style="font-family:'Liberation Sans',sans-serif;font-size:13px" fill="#1a1a1a">40</text>
<text x="469.17" y="252.90" text-anchor="middle" style="font-family:'Liberation Sans',sans-serif;font-size:13px" fill="#1a1a1a">60</text>
<text x="520.73" y="252.90" text-anchor="middle" style="font-family:'Liberation Sans',sans-serif;font-size:13px" fill="#1a1a1a">80</text>
<text x="572.30" y="252.90" text-anchor="middle" style="font-family:'Liberation Sans',sans-serif;font-size:13px" fill="#1a1a1a">100</text>
<text x="623.87" y="252.90" text-anchor="middle" style="font-family:'Liberation Sans',sans-serif;font-size:13px" fill="#1a1a1a">120</text>
<text x="675.43" y="252.90" text-anchor="middle" style="font-family:'Liberation Sans',sans-serif;font-size:13px" fill="#1a1a1a">140</text>
<text x="727.00" y="252.90" text-anchor="middle" style="font-family:'Liberation Sans',sans-serif;font-size:13px" fill="#1a1a1a">160</text>
<text x="409.40" y="237.90" text-anchor="end" style="font-family:'Liberation Sans',sans-serif;font-size:13px" fill="#1a1a1a">0</text>
<text x="409.40" y="187.38" text-anchor="end" style="font-family:'Liberation Sans',sans-serif;font-size:13px" fill="#1a1a1a">1</text>
<text x="409.40" y="136.85" text-anchor="end" style="font-family:'Liberation Sans',sans-serif;font-size:13px" fill="#1a1a1a">2</text>
<text x="409.40" y="86.33" text-anchor="end" style="font-family:'Liberation Sans',sans-serif;font-size:13px" fill="#1a1a1a">3</text>
<text x="409.40" y="35.80" text-anchor="end" style="font-family:'Liberation Sans',sans-serif;font-size:13px" fill="#1a1a1a">4</text>
<text transform="translate(389.70,212.80) rotate(-90)" style="font-family:'Liberation Sans',sans-serif;font-size:16.6px" fill="#1a1a1a">Temperature change (K)</text>
<text x="497.50" y="274.60" style="font-family:'Liberation Sans',sans-serif;font-size:16.6px" fill="#1a1a1a">Initial temperature (K)</text>
<text x="694.20" y="28.30" style="font-family:'Liberation Sans',sans-serif;font-size:17.5px;letter-spacing:1.1px;stroke-width:0.12px" fill="#1a1a1a">(b)</text>
<rect x="430.4" y="18.2" width="139.1" height="60.2" fill="#fff" stroke="#3a3a3a" stroke-width="1.0"/>
<text x="476.70" y="35.10" style="font-family:'Liberation Serif',serif;stroke-width:0.05px;font-size:13.5px;font-style:italic" fill="#1a1a1a">j</text><text x="481.30" y="40.60" style="font-family:'Liberation Serif',serif;stroke-width:0.05px;font-size:8.5px" fill="#333">0</text><text x="488.90" y="34.50" style="font-family:'Liberation Serif',serif;stroke-width:0.05px;font-size:13.5px" fill="#1a1a1a">=</text><text x="500.90" y="35.20" style="font-family:'Liberation Serif',serif;stroke-width:0.05px;font-size:14px" fill="#1a1a1a">0</text>
<line x1="436.9" y1="49.1" x2="469.3" y2="49.1" stroke="#dc5252" stroke-width="2.1"/>
<text x="473.60" y="54.20" style="font-family:'Liberation Serif',serif;stroke-width:0.05px;font-size:14px" fill="#1a1a1a">From Eq. (12)</text>
<path d="M448.60,64.10 H457.60 L453.10,71.90 Z" fill="none" stroke="#2323e6" stroke-width="1.2"/>
<text x="473.60" y="71.90" style="font-family:'Liberation Serif',serif;stroke-width:0.05px;font-size:14px" fill="#1a1a1a">From Eq. (17)</text>
<g clip-path="url(#cc)" fill="#fff" stroke="#1c8e1c" stroke-width="0.9"><circle cx="44.90" cy="535.26" r="3.25"/>
<circle cx="47.49" cy="534.92" r="3.25"/>
<circle cx="50.07" cy="534.56" r="3.25"/>
<circle cx="52.66" cy="534.17" r="3.25"/>
<circle cx="55.24" cy="533.76" r="3.25"/>
<circle cx="57.83" cy="533.33" r="3.25"/>
<circle cx="60.41" cy="532.88" r="3.25"/>
<circle cx="63.00" cy="532.39" r="3.25"/>
<circle cx="65.59" cy="531.88" r="3.25"/>
<circle cx="68.17" cy="531.35" r="3.25"/>
<circle cx="70.76" cy="530.80" r="3.25"/>
<circle cx="73.34" cy="530.24" r="3.25"/>
<circle cx="75.93" cy="529.65" r="3.25"/>
<circle cx="78.52" cy="529.04" r="3.25"/>
<circle cx="81.10" cy="528.41" r="3.25"/>
<circle cx="83.69" cy="527.76" r="3.25"/>
<circle cx="86.27" cy="527.10" r="3.25"/>
<circle cx="88.86" cy="526.43" r="3.25"/>
<circle cx="91.44" cy="525.73" r="3.25"/>
<circle cx="94.03" cy="525.01" r="3.25"/>
<circle cx="96.62" cy="524.27" r="3.25"/>
<circle cx="99.20" cy="523.50" r="3.25"/>
<circle cx="101.79" cy="522.71" r="3.25"/>
<circle cx="104.37" cy="521.88" r="3.25"/>
<circle cx="106.96" cy="521.04" r="3.25"/>
<circle cx="109.55" cy="520.17" r="3.25"/>
<circle cx="112.13" cy="519.27" r="3.25"/>
<circle cx="114.72" cy="518.34" r="3.25"/>
<circle cx="117.30" cy="517.38" r="3.25"/>
<circle cx="119.89" cy="516.40" r="3.25"/>
<circle cx="122.47" cy="515.40" r="3.25"/>
<circle cx="125.06" cy="514.39" r="3.25"/>
<circle cx="127.65" cy="513.36" r="3.25"/>
<circle cx="130.23" cy="512.31" r="3.25"/>
<circle cx="132.82" cy="511.24" r="3.25"/>
<circle cx="135.40" cy="510.15" r="3.25"/>
<circle cx="137.99" cy="509.03" r="3.25"/>
<circle cx="140.58" cy="507.89" r="3.25"/>
<circle cx="143.16" cy="506.73" r="3.25"/>
<circle cx="145.75" cy="505.55" r="3.25"/>
<circle cx="148.33" cy="504.35" r="3.25"/>
<circle cx="150.92" cy="503.13" r="3.25"/>
<circle cx="153.50" cy="501.88" r="3.25"/>
<circle cx="156.09" cy="500.61" r="3.25"/>
<circle cx="158.68" cy="499.31" r="3.25"/>
<circle cx="161.26" cy="497.98" r="3.25"/>
<circle cx="163.85" cy="496.61" r="3.25"/>
<circle cx="166.43" cy="495.19" r="3.25"/>
<circle cx="169.02" cy="493.72" r="3.25"/>
<circle cx="171.61" cy="492.20" r="3.25"/>
<circle cx="174.19" cy="490.64" r="3.25"/>
<circle cx="176.78" cy="489.02" r="3.25"/>
<circle cx="179.36" cy="487.34" r="3.25"/>
<circle cx="181.95" cy="484.89" r="3.25"/>
<circle cx="184.54" cy="482.38" r="3.25"/>
<circle cx="187.12" cy="480.63" r="3.25"/>
<circle cx="189.71" cy="478.86" r="3.25"/>
<circle cx="192.29" cy="477.08" r="3.25"/>
<circle cx="194.88" cy="475.31" r="3.25"/>
<circle cx="197.46" cy="473.40" r="3.25"/>
<circle cx="200.05" cy="471.23" r="3.25"/>
<circle cx="202.64" cy="468.83" r="3.25"/>
<circle cx="205.22" cy="466.37" r="3.25"/>
<circle cx="207.81" cy="463.78" r="3.25"/>
<circle cx="210.39" cy="460.99" r="3.25"/>
<circle cx="212.98" cy="457.86" r="3.25"/>
<circle cx="215.56" cy="454.33" r="3.25"/>
<circle cx="218.15" cy="450.63" r="3.25"/>
<circle cx="220.74" cy="446.97" r="3.25"/>
<circle cx="223.32" cy="443.41" r="3.25"/>
<circle cx="225.91" cy="439.63" r="3.25"/>
<circle cx="228.49" cy="435.07" r="3.25"/>
<circle cx="231.08" cy="431.02" r="3.25"/>
<circle cx="233.67" cy="427.98" r="3.25"/>
<circle cx="236.25" cy="425.96" r="3.25"/>
<circle cx="238.84" cy="424.94" r="3.25"/>
<circle cx="241.42" cy="427.98" r="3.25"/>
<circle cx="244.01" cy="429.50" r="3.25"/>
<circle cx="246.60" cy="426.97" r="3.25"/>
<circle cx="249.18" cy="416.33" r="3.25"/>
<circle cx="251.77" cy="429.25" r="3.25"/>
<circle cx="254.35" cy="444.44" r="3.25"/>
<circle cx="256.94" cy="457.61" r="3.25"/>
<circle cx="259.52" cy="471.04" r="3.25"/>
<circle cx="262.11" cy="480.15" r="3.25"/>
<circle cx="264.70" cy="486.74" r="3.25"/>
<circle cx="267.28" cy="491.80" r="3.25"/>
<circle cx="269.87" cy="495.85" r="3.25"/>
<circle cx="272.45" cy="499.91" r="3.25"/>
<circle cx="275.04" cy="503.42" r="3.25"/>
<circle cx="277.62" cy="506.49" r="3.25"/>
<circle cx="280.21" cy="509.24" r="3.25"/>
<circle cx="282.80" cy="511.83" r="3.25"/>
<circle cx="285.38" cy="514.23" r="3.25"/>
<circle cx="287.97" cy="516.35" r="3.25"/>
<circle cx="290.55" cy="518.14" r="3.25"/>
<circle cx="293.14" cy="519.60" r="3.25"/>
<circle cx="295.73" cy="520.85" r="3.25"/>
<circle cx="298.31" cy="521.97" r="3.25"/>
<circle cx="300.90" cy="523.03" r="3.25"/>
<circle cx="303.48" cy="523.96" r="3.25"/>
<circle cx="306.07" cy="524.75" r="3.25"/>
<circle cx="308.65" cy="525.46" r="3.25"/>
<circle cx="311.24" cy="526.16" r="3.25"/>
<circle cx="313.83" cy="526.85" r="3.25"/>
<circle cx="316.41" cy="527.53" r="3.25"/>
<circle cx="319.00" cy="528.16" r="3.25"/>
<circle cx="321.58" cy="528.72" r="3.25"/>
<circle cx="324.17" cy="529.23" r="3.25"/>
<circle cx="326.76" cy="529.71" r="3.25"/>
<circle cx="329.34" cy="530.14" r="3.25"/>
<circle cx="331.93" cy="530.53" r="3.25"/>
<circle cx="334.51" cy="530.86" r="3.25"/>
<circle cx="337.10" cy="531.15" r="3.25"/>
<circle cx="339.69" cy="531.40" r="3.25"/>
<circle cx="342.27" cy="531.64" r="3.25"/>
<circle cx="344.86" cy="531.86" r="3.25"/>
<circle cx="347.44" cy="532.08" r="3.25"/>
<circle cx="350.03" cy="532.29" r="3.25"/>
<circle cx="352.61" cy="532.49" r="3.25"/>
<circle cx="355.20" cy="532.68" r="3.25"/></g>
<polyline points="44.90,535.26 45.16,535.23 45.42,535.19 45.68,535.16 45.94,535.13 46.19,535.09 46.45,535.06 46.71,535.03 46.97,534.99 47.23,534.96 47.49,534.92 47.75,534.89 48.01,534.85 48.26,534.82 48.52,534.78 48.78,534.74 49.04,534.71 49.30,534.67 49.56,534.63 49.82,534.60 50.08,534.56 50.33,534.52 50.59,534.48 50.85,534.44 51.11,534.41 51.37,534.37 51.63,534.33 51.89,534.29 52.15,534.25 52.41,534.21 52.66,534.17 52.92,534.13 53.18,534.09 53.44,534.05 53.70,534.01 53.96,533.97 54.22,533.93 54.48,533.89 54.73,533.85 54.99,533.80 55.25,533.76 55.51,533.72 55.77,533.68 56.03,533.64 56.29,533.59 56.55,533.55 56.80,533.51 57.06,533.46 57.32,533.42 57.58,533.38 57.84,533.33 58.10,533.29 58.36,533.24 58.62,533.20 58.88,533.16 59.13,533.11 59.39,533.06 59.65,533.02 59.91,532.97 60.17,532.92 60.43,532.88 60.69,532.83 60.95,532.78 61.20,532.73 61.46,532.69 61.72,532.64 61.98,532.59 62.24,532.54 62.50,532.49 62.76,532.44 63.02,532.39 63.27,532.34 63.53,532.29 63.79,532.24 64.05,532.19 64.31,532.14 64.57,532.09 64.83,532.03 65.09,531.98 65.35,531.93 65.60,531.88 65.86,531.83 66.12,531.77 66.38,531.72 66.64,531.67 66.90,531.61 67.16,531.56 67.42,531.51 67.67,531.45 67.93,531.40 68.19,531.35 68.45,531.29 68.71,531.24 68.97,531.18 69.23,531.13 69.49,531.07 69.74,531.02 70.00,530.96 70.26,530.91 70.52,530.85 70.78,530.80 71.04,530.74 71.30,530.69 71.56,530.63 71.82,530.57 72.07,530.52 72.33,530.46 72.59,530.40 72.85,530.35 73.11,530.29 73.37,530.23 73.63,530.17 73.89,530.12 74.14,530.06 74.40,530.00 74.66,529.94 74.92,529.88 75.18,529.82 75.44,529.76 75.70,529.70 75.96,529.64 76.21,529.58 76.47,529.52 76.73,529.46 76.99,529.40 77.25,529.34 77.51,529.28 77.77,529.21 78.03,529.15 78.29,529.09 78.54,529.03 78.80,528.97 79.06,528.90 79.32,528.84 79.58,528.78 79.84,528.72 80.10,528.65 80.36,528.59 80.61,528.53 80.87,528.46 81.13,528.40 81.39,528.34 81.65,528.27 81.91,528.21 82.17,528.14 82.43,528.08 82.68,528.01 82.94,527.95 83.20,527.89 83.46,527.82 83.72,527.76 83.98,527.69 84.24,527.62 84.50,527.56 84.76,527.49 85.01,527.43 85.27,527.36 85.53,527.30 85.79,527.23 86.05,527.16 86.31,527.10 86.57,527.03 86.83,526.96 87.08,526.89 87.34,526.83 87.60,526.76 87.86,526.69 88.12,526.62 88.38,526.55 88.64,526.49 88.90,526.42 89.15,526.35 89.41,526.28 89.67,526.21 89.93,526.14 90.19,526.07 90.45,526.00 90.71,525.93 90.97,525.86 91.23,525.79 91.48,525.72 91.74,525.65 92.00,525.58 92.26,525.51 92.52,525.43 92.78,525.36 93.04,525.29 93.30,525.22 93.55,525.15 93.81,525.07 94.07,525.00 94.33,524.93 94.59,524.85 94.85,524.78 95.11,524.71 95.37,524.63 95.62,524.56 95.88,524.48 96.14,524.41 96.40,524.33 96.66,524.26 96.92,524.18 97.18,524.10 97.44,524.03 97.69,523.95 97.95,523.87 98.21,523.80 98.47,523.72 98.73,523.64 98.99,523.56 99.25,523.49 99.51,523.41 99.77,523.33 100.02,523.25 100.28,523.17 100.54,523.09 100.80,523.01 101.06,522.93 101.32,522.85 101.58,522.77 101.84,522.69 102.09,522.61 102.35,522.53 102.61,522.45 102.87,522.36 103.13,522.28 103.39,522.20 103.65,522.12 103.91,522.03 104.16,521.95 104.42,521.87 104.68,521.78 104.94,521.70 105.20,521.62 105.46,521.53 105.72,521.45 105.98,521.36 106.24,521.28 106.49,521.19 106.75,521.11 107.01,521.02 107.27,520.93 107.53,520.85 107.79,520.76 108.05,520.67 108.31,520.59 108.56,520.50 108.82,520.41 109.08,520.32 109.34,520.24 109.60,520.15 109.86,520.06 110.12,519.97 110.38,519.88 110.63,519.79 110.89,519.70 111.15,519.61 111.41,519.52 111.67,519.43 111.93,519.34 112.19,519.25 112.45,519.15 112.71,519.06 112.96,518.97 113.22,518.88 113.48,518.78 113.74,518.69 114.00,518.60 114.26,518.50 114.52,518.41 114.78,518.32 115.03,518.22 115.29,518.13 115.55,518.03 115.81,517.93 116.07,517.84 116.33,517.74 116.59,517.65 116.85,517.55 117.10,517.45 117.36,517.36 117.62,517.26 117.88,517.16 118.14,517.07 118.40,516.97 118.66,516.87 118.92,516.77 119.18,516.67 119.43,516.58 119.69,516.48 119.95,516.38 120.21,516.28 120.47,516.18 120.73,516.08 120.99,515.98 121.25,515.88 121.50,515.78 121.76,515.68 122.02,515.58 122.28,515.48 122.54,515.38 122.80,515.28 123.06,515.18 123.32,515.08 123.57,514.98 123.83,514.87 124.09,514.77 124.35,514.67 124.61,514.57 124.87,514.47 125.13,514.37 125.39,514.26 125.65,514.16 125.90,514.06 126.16,513.96 126.42,513.85 126.68,513.75 126.94,513.65 127.20,513.54 127.46,513.44 127.72,513.34 127.97,513.23 128.23,513.13 128.49,513.02 128.75,512.92 129.01,512.81 129.27,512.71 129.53,512.60 129.79,512.50 130.04,512.39 130.30,512.28 130.56,512.18 130.82,512.07 131.08,511.97 131.34,511.86 131.60,511.75 131.86,511.64 132.12,511.54 132.37,511.43 132.63,511.32 132.89,511.21 133.15,511.10 133.41,511.00 133.67,510.89 133.93,510.78 134.19,510.67 134.44,510.56 134.70,510.45 134.96,510.34 135.22,510.23 135.48,510.12 135.74,510.01 136.00,509.90 136.26,509.79 136.51,509.67 136.77,509.56 137.03,509.45 137.29,509.34 137.55,509.23 137.81,509.11 138.07,509.00 138.33,508.89 138.59,508.77 138.84,508.66 139.10,508.55 139.36,508.43 139.62,508.32 139.88,508.20 140.14,508.09 140.40,507.97 140.66,507.86 140.91,507.74 141.17,507.63 141.43,507.51 141.69,507.40 141.95,507.28 142.21,507.16 142.47,507.05 142.73,506.93 142.98,506.81 143.24,506.70 143.50,506.58 143.76,506.46 144.02,506.35 144.28,506.23 144.54,506.11 144.80,505.99 145.06,505.87 145.31,505.75 145.57,505.64 145.83,505.52 146.09,505.40 146.35,505.28 146.61,505.16 146.87,505.04 147.13,504.92 147.38,504.80 147.64,504.68 147.90,504.56 148.16,504.44 148.42,504.31 148.68,504.19 148.94,504.07 149.20,503.95 149.45,503.83 149.71,503.70 149.97,503.58 150.23,503.46 150.49,503.34 150.75,503.21 151.01,503.09 151.27,502.97 151.53,502.84 151.78,502.72 152.04,502.59 152.30,502.47 152.56,502.34 152.82,502.22 153.08,502.09 153.34,501.97 153.60,501.84 153.85,501.71 154.11,501.59 154.37,501.46 154.63,501.33 154.89,501.21 155.15,501.08 155.41,500.95 155.67,500.82 155.92,500.69 156.18,500.57 156.44,500.44 156.70,500.31 156.96,500.18 157.22,500.05 157.48,499.92 157.74,499.79 158.00,499.66 158.25,499.53 158.51,499.40 158.77,499.26 159.03,499.13 159.29,499.00 159.55,498.87 159.81,498.74 160.07,498.60 160.32,498.47 160.58,498.34 160.84,498.20 161.10,498.07 161.36,497.93 161.62,497.80 161.88,497.66 162.14,497.53 162.39,497.39 162.65,497.25 162.91,497.12 163.17,496.98 163.43,496.84 163.69,496.70 163.95,496.56 164.21,496.42 164.47,496.28 164.72,496.14 164.98,496.00 165.24,495.85 165.50,495.71 165.76,495.57 166.02,495.43 166.28,495.28 166.54,495.14 166.79,494.99 167.05,494.85 167.31,494.70 167.57,494.55 167.83,494.41 168.09,494.26 168.35,494.11 168.61,493.96 168.86,493.81 169.12,493.66 169.38,493.51 169.64,493.36 169.90,493.21 170.16,493.06 170.42,492.91 170.68,492.75 170.94,492.60 171.19,492.45 171.45,492.29 171.71,492.14 171.97,491.98 172.23,491.83 172.49,491.67 172.75,491.52 173.01,491.36 173.26,491.20 173.52,491.04 173.78,490.89 174.04,490.73 174.30,490.57 174.56,490.41 174.82,490.25 175.08,490.09 175.33,489.93 175.59,489.77 175.85,489.60 176.11,489.44 176.37,489.28 176.63,489.11 176.89,488.95 177.15,488.78 177.41,488.62 177.66,488.45 177.92,488.28 178.18,488.12 178.44,487.95 178.70,487.78 178.96,487.61 179.22,487.44 179.48,487.27 179.73,487.10 179.99,486.93 180.25,486.75 180.51,486.58 180.77,486.40 181.03,486.23 181.29,486.05 181.55,485.88 181.80,485.70 182.06,485.52 182.32,485.34 182.58,485.16 182.84,484.98 183.10,484.80 183.36,484.62 183.62,484.43 183.88,484.25 184.13,484.06 184.39,483.87 184.65,483.69 184.91,483.50 185.17,483.31 185.43,483.12 185.69,482.93 185.95,482.74 186.20,482.55 186.46,482.35 186.72,482.16 186.98,481.97 187.24,481.77 187.50,481.57 187.76,481.38 188.02,481.18 188.27,480.98 188.53,480.78 188.79,480.58 189.05,480.38 189.31,480.18 189.57,479.98 189.83,479.78 190.09,479.58 190.35,479.37 190.60,479.17 190.86,478.96 191.12,478.76 191.38,478.55 191.64,478.35 191.90,478.14 192.16,477.93 192.42,477.72 192.67,477.51 192.93,477.31 193.19,477.10 193.45,476.89 193.71,476.67 193.97,476.46 194.23,476.25 194.49,476.04 194.74,475.83 195.00,475.61 195.26,475.40 195.52,475.18 195.78,474.96 196.04,474.75 196.30,474.53 196.56,474.31 196.82,474.09 197.07,473.86 197.33,473.64 197.59,473.42 197.85,473.19 198.11,472.96 198.37,472.74 198.63,472.51 198.89,472.28 199.14,472.05 199.40,471.81 199.66,471.58 199.92,471.35 200.18,471.11 200.44,470.87 200.70,470.63 200.96,470.40 201.21,470.15 201.47,469.91 201.73,469.67 201.99,469.43 202.25,469.19 202.51,468.95 202.77,468.71 203.03,468.46 203.28,468.22 203.54,467.97 203.80,467.73 204.06,467.48 204.32,467.24 204.58,466.99 204.84,466.74 205.10,466.49 205.36,466.24 205.61,465.99 205.87,465.73 206.13,465.48 206.39,465.22 206.65,464.96 206.91,464.70 207.17,464.44 207.43,464.17 207.68,463.91 207.94,463.64 208.20,463.37 208.46,463.10 208.72,462.82 208.98,462.55 209.24,462.27 209.50,461.98 209.75,461.70 210.01,461.41 210.27,461.12 210.53,460.83 210.79,460.53 211.05,460.23 211.31,459.93 211.57,459.63 211.83,459.31 212.08,458.99 212.34,458.67 212.60,458.34 212.86,458.01 213.12,457.67 213.38,457.33 213.64,456.99 213.90,456.64 214.15,456.29 214.41,455.94 214.67,455.58 214.93,455.22 215.19,454.86 215.45,454.50 215.71,454.13 215.97,453.76 216.22,453.39 216.48,453.02 216.74,452.65 217.00,452.28 217.26,451.91 217.52,451.54 217.78,451.16 218.04,450.79 218.30,450.42 218.55,450.05 218.81,449.68 219.07,449.31 219.33,448.94 219.59,448.57 219.85,448.21 220.11,447.84 220.37,447.48 220.62,447.12 220.88,446.77 221.14,446.41 221.40,446.06 221.66,445.70 221.92,445.35 222.18,444.99 222.44,444.64 222.69,444.28 222.95,443.92 223.21,443.57 223.47,443.20 223.73,442.84 223.99,442.47 224.25,442.10 224.51,441.73 224.77,441.35 225.02,440.97 225.28,440.59 225.54,440.20 225.80,439.80 226.06,439.40 226.32,438.98 226.58,438.56 226.84,438.12 227.09,437.68 227.35,437.23 227.61,436.78 227.87,436.32 228.13,435.86 228.39,435.39 228.65,434.93 228.91,434.46 229.16,434.00 229.42,433.53 229.68,433.08 229.94,432.62 230.20,432.18 230.46,431.74 230.72,431.31 230.98,430.88 231.24,430.47 231.49,430.07 231.75,429.65 232.01,429.23 232.27,428.80 232.53,428.39 232.79,428.00 233.05,427.65 233.31,427.33 233.56,427.06 233.82,426.84 234.08,426.62 234.34,426.41 234.60,426.20 234.86,426.00 235.12,425.81 235.38,425.63 235.63,425.46 235.89,425.30 236.15,425.16 236.41,425.04 236.67,424.95 236.93,424.87 237.19,424.82 237.45,424.79 237.71,424.80 237.96,424.83 238.22,424.89 238.48,424.98 238.74,425.08 239.00,425.19 239.26,425.32 239.52,425.45 239.78,425.58 240.03,425.71 240.29,425.84 240.55,425.95 240.81,426.05 241.07,426.13 241.33,426.18 241.59,426.21 241.85,426.20 242.10,426.15 242.36,426.05 242.62,425.91 242.88,425.74 243.14,425.54 243.40,425.32 243.66,425.08 243.92,424.82 244.18,424.55 244.43,424.28 244.69,423.98 244.95,423.58 245.21,423.09 245.47,422.54 245.73,421.96 245.99,421.38 246.25,420.81 246.50,420.30 246.76,419.86 247.02,419.50 247.28,419.16 247.54,418.84 247.80,418.53 248.06,418.25 248.32,418.00 248.57,417.76 248.83,417.56 249.09,417.75 249.35,418.21 249.61,418.77 249.87,419.42 250.13,420.13 250.39,420.94 250.65,421.96 250.90,423.15 251.16,424.45 251.42,425.80 251.68,427.15 251.94,428.45 252.20,429.65 252.46,430.70 252.72,431.69 252.97,432.63 253.23,433.54 253.49,434.45 253.75,435.36 254.01,436.29 254.27,437.28 254.53,438.31 254.79,439.39 255.04,440.49 255.30,441.62 255.56,442.77 255.82,443.94 256.08,445.12 256.34,446.29 256.60,447.47 256.86,448.64 257.12,449.79 257.37,450.93 257.63,452.05 257.89,453.16 258.15,454.28 258.41,455.40 258.67,456.51 258.93,457.62 259.19,458.73 259.44,459.82 259.70,460.91 259.96,461.99 260.22,463.06 260.48,464.11 260.74,465.15 261.00,466.18 261.26,467.22 261.51,468.24 261.77,469.22 262.03,470.12 262.29,470.95 262.55,471.74 262.81,472.49 263.07,473.21 263.33,473.90 263.59,474.58 263.84,475.24 264.10,475.89 264.36,476.53 264.62,477.18 264.88,477.83 265.14,478.47 265.40,479.12 265.66,479.76 265.91,480.40 266.17,481.03 266.43,481.65 266.69,482.25 266.95,482.85 267.21,483.43 267.47,484.00 267.73,484.55 267.98,485.08 268.24,485.59 268.50,486.08 268.76,486.56 269.02,487.03 269.28,487.51 269.54,487.97 269.80,488.43 270.06,488.88 270.31,489.33 270.57,489.77 270.83,490.21 271.09,490.64 271.35,491.07 271.61,491.49 271.87,491.91 272.13,492.32 272.38,492.72 272.64,493.12 272.90,493.52 273.16,493.91 273.42,494.29 273.68,494.68 273.94,495.05 274.20,495.42 274.45,495.79 274.71,496.15 274.97,496.51 275.23,496.86 275.49,497.21 275.75,497.55 276.01,497.89 276.27,498.22 276.53,498.55 276.78,498.88 277.04,499.20 277.30,499.52 277.56,499.83 277.82,500.14 278.08,500.45 278.34,500.75 278.60,501.06 278.85,501.36 279.11,501.66 279.37,501.96 279.63,502.26 279.89,502.55 280.15,502.85 280.41,503.14 280.67,503.43 280.92,503.71 281.18,504.00 281.44,504.28 281.70,504.56 281.96,504.84 282.22,505.11 282.48,505.39 282.74,505.66 283.00,505.93 283.25,506.19 283.51,506.45 283.77,506.71 284.03,506.97 284.29,507.23 284.55,507.48 284.81,507.73 285.07,507.97 285.32,508.22 285.58,508.46 285.84,508.69 286.10,508.93 286.36,509.16 286.62,509.38 286.88,509.61 287.14,509.83 287.39,510.05 287.65,510.26 287.91,510.47 288.17,510.68 288.43,510.88 288.69,511.08 288.95,511.28 289.21,511.47 289.47,511.66 289.72,511.85 289.98,512.03 290.24,512.21 290.50,512.38 290.76,512.55 291.02,512.72 291.28,512.89 291.54,513.05 291.79,513.21 292.05,513.37 292.31,513.53 292.57,513.69 292.83,513.85 293.09,514.00 293.35,514.15 293.61,514.30 293.86,514.45 294.12,514.60 294.38,514.74 294.64,514.89 294.90,515.03 295.16,515.17 295.42,515.31 295.68,515.44 295.94,515.58 296.19,515.71 296.45,515.84 296.71,515.97 296.97,516.10 297.23,516.23 297.49,516.36 297.75,516.48 298.01,516.60 298.26,516.73 298.52,516.85 298.78,516.96 299.04,517.08 299.30,517.20 299.56,517.31 299.82,517.43 300.08,517.54 300.33,517.65 300.59,517.76 300.85,517.87 301.11,517.97 301.37,518.08 301.63,518.18 301.89,518.29 302.15,518.39 302.41,518.49 302.66,518.59 302.92,518.69 303.18,518.79 303.44,518.88 303.70,518.98 303.96,519.07 304.22,519.17 304.48,519.26 304.73,519.35 304.99,519.44 305.25,519.53 305.51,519.61 305.77,519.70 306.03,519.78 306.29,519.87 306.55,519.95 306.80,520.03 307.06,520.12 307.32,520.20 307.58,520.28 307.84,520.35 308.10,520.43 308.36,520.51 308.62,520.59 308.87,520.66 309.13,520.74 309.39,520.81 309.65,520.88 309.91,520.96 310.17,521.03 310.43,521.10 310.69,521.17 310.95,521.25 311.20,521.32 311.46,521.39 311.72,521.46 311.98,521.53 312.24,521.60 312.50,521.66 312.76,521.73 313.02,521.80 313.27,521.87 313.53,521.94 313.79,522.01 314.05,522.08 314.31,522.14 314.57,522.21 314.83,522.28 315.09,522.35 315.34,522.42 315.60,522.48 315.86,522.55 316.12,522.62 316.38,522.69 316.64,522.76 316.90,522.83 317.16,522.90 317.42,522.96 317.67,523.03 317.93,523.10 318.19,523.17 318.45,523.24 318.71,523.30 318.97,523.37 319.23,523.44 319.49,523.51 319.74,523.57 320.00,523.64 320.26,523.71 320.52,523.77 320.78,523.84 321.04,523.90 321.30,523.97 321.56,524.04 321.81,524.10 322.07,524.16 322.33,524.23 322.59,524.29 322.85,524.36 323.11,524.42 323.37,524.48 323.63,524.55 323.89,524.61 324.14,524.67 324.40,524.73 324.66,524.80 324.92,524.86 325.18,524.92 325.44,524.98 325.70,525.04 325.96,525.10 326.21,525.16 326.47,525.22 326.73,525.27 326.99,525.33 327.25,525.39 327.51,525.45 327.77,525.50 328.03,525.56 328.28,525.62 328.54,525.67 328.80,525.73 329.06,525.78 329.32,525.83 329.58,525.89 329.84,525.94 330.10,525.99 330.36,526.05 330.61,526.10 330.87,526.15 331.13,526.20 331.39,526.25 331.65,526.30 331.91,526.35 332.17,526.40 332.43,526.45 332.68,526.50 332.94,526.55 333.20,526.60 333.46,526.65 333.72,526.70 333.98,526.75 334.24,526.80 334.50,526.84 334.75,526.89 335.01,526.94 335.27,526.99 335.53,527.03 335.79,527.08 336.05,527.13 336.31,527.17 336.57,527.22 336.83,527.26 337.08,527.31 337.34,527.35 337.60,527.40 337.86,527.44 338.12,527.49 338.38,527.53 338.64,527.57 338.90,527.62 339.15,527.66 339.41,527.70 339.67,527.75 339.93,527.79 340.19,527.83 340.45,527.88 340.71,527.92 340.97,527.96 341.22,528.00 341.48,528.04 341.74,528.08 342.00,528.13 342.26,528.17 342.52,528.21 342.78,528.25 343.04,528.29 343.30,528.33 343.55,528.37 343.81,528.41 344.07,528.45 344.33,528.49 344.59,528.53 344.85,528.57 345.11,528.61 345.37,528.65 345.62,528.69 345.88,528.72 346.14,528.76 346.40,528.80 346.66,528.84 346.92,528.88 347.18,528.92 347.44,528.95 347.69,528.99 347.95,529.03 348.21,529.07 348.47,529.10 348.73,529.14 348.99,529.18 349.25,529.21 349.51,529.25 349.77,529.28 350.02,529.32 350.28,529.36 350.54,529.39 350.80,529.43 351.06,529.46 351.32,529.50 351.58,529.53 351.84,529.56 352.09,529.60 352.35,529.63 352.61,529.67 352.87,529.70 353.13,529.73 353.39,529.77 353.65,529.80 353.91,529.83 354.16,529.86 354.42,529.90 354.68,529.93 354.94,529.96 355.20,529.99" fill="none" stroke="#ee1c1c" stroke-width="1.5" stroke-linejoin="round"/>
<path d="M44.9,310.475 H355.2 V538.4 H44.9 Z" fill="none" stroke="#1e1e1e" stroke-width="1.2"/>
<line x1="44.90" y1="538.4" x2="44.90" y2="542.9" stroke="#1e1e1e" stroke-width="1.2"/>
<line x1="96.62" y1="538.4" x2="96.62" y2="542.9" stroke="#1e1e1e" stroke-width="1.2"/>
<line x1="148.33" y1="538.4" x2="148.33" y2="542.9" stroke="#1e1e1e" stroke-width="1.2"/>
<line x1="200.05" y1="538.4" x2="200.05" y2="542.9" stroke="#1e1e1e" stroke-width="1.2"/>
<line x1="251.77" y1="538.4" x2="251.77" y2="542.9" stroke="#1e1e1e" stroke-width="1.2"/>
<line x1="303.48" y1="538.4" x2="303.48" y2="542.9" stroke="#1e1e1e" stroke-width="1.2"/>
<line x1="355.20" y1="538.4" x2="355.20" y2="542.9" stroke="#1e1e1e" stroke-width="1.2"/>
<line x1="70.76" y1="538.4" x2="70.76" y2="541.1999999999999" stroke="#1e1e1e" stroke-width="1.2"/>
<line x1="122.47" y1="538.4" x2="122.47" y2="541.1999999999999" stroke="#1e1e1e" stroke-width="1.2"/>
<line x1="174.19" y1="538.4" x2="174.19" y2="541.1999999999999" stroke="#1e1e1e" stroke-width="1.2"/>
<line x1="225.91" y1="538.4" x2="225.91" y2="541.1999999999999" stroke="#1e1e1e" stroke-width="1.2"/>
<line x1="277.62" y1="538.4" x2="277.62" y2="541.1999999999999" stroke="#1e1e1e" stroke-width="1.2"/>
<line x1="329.34" y1="538.4" x2="329.34" y2="541.1999999999999" stroke="#1e1e1e" stroke-width="1.2"/>
<line x1="40.4" y1="538.40" x2="44.9" y2="538.40" stroke="#1e1e1e" stroke-width="1.2"/>
<line x1="40.4" y1="487.75" x2="44.9" y2="487.75" stroke="#1e1e1e" stroke-width="1.2"/>
<line x1="40.4" y1="437.10" x2="44.9" y2="437.10" stroke="#1e1e1e" stroke-width="1.2"/>
<line x1="40.4" y1="386.45" x2="44.9" y2="386.45" stroke="#1e1e1e" stroke-width="1.2"/>
<line x1="40.4" y1="335.80" x2="44.9" y2="335.80" stroke="#1e1e1e" stroke-width="1.2"/>
<line x1="42.1" y1="513.07" x2="44.9" y2="513.07" stroke="#1e1e1e" stroke-width="1.2"/>
<line x1="42.1" y1="462.42" x2="44.9" y2="462.42" stroke="#1e1e1e" stroke-width="1.2"/>
<line x1="42.1" y1="411.77" x2="44.9" y2="411.77" stroke="#1e1e1e" stroke-width="1.2"/>
<line x1="42.1" y1="361.12" x2="44.9" y2="361.12" stroke="#1e1e1e" stroke-width="1.2"/>
<line x1="42.1" y1="310.48" x2="44.9" y2="310.48" stroke="#1e1e1e" stroke-width="1.2"/>
<text x="44.90" y="556.80" text-anchor="middle" style="font-family:'Liberation Sans',sans-serif;font-size:13px" fill="#1a1a1a">40</text>
<text x="96.62" y="556.80" text-anchor="middle" style="font-family:'Liberation Sans',sans-serif;font-size:13px" fill="#1a1a1a">60</text>
<text x="148.33" y="556.80" text-anchor="middle" style="font-family:'Liberation Sans',sans-serif;font-size:13px" fill="#1a1a1a">80</text>
<text x="200.05" y="556.80" text-anchor="middle" style="font-family:'Liberation Sans',sans-serif;font-size:13px" fill="#1a1a1a">100</text>
<text x="251.77" y="556.80" text-anchor="middle" style="font-family:'Liberation Sans',sans-serif;font-size:13px" fill="#1a1a1a">120</text>
<text x="303.48" y="556.80" text-anchor="middle" style="font-family:'Liberation Sans',sans-serif;font-size:13px" fill="#1a1a1a">140</text>
<text x="355.20" y="556.80" text-anchor="middle" style="font-family:'Liberation Sans',sans-serif;font-size:13px" fill="#1a1a1a">160</text>
<text x="36.70" y="541.60" text-anchor="end" style="font-family:'Liberation Sans',sans-serif;font-size:13px" fill="#1a1a1a">0</text>
<text x="36.70" y="490.95" text-anchor="end" style="font-family:'Liberation Sans',sans-serif;font-size:13px" fill="#1a1a1a">1</text>
<text x="36.70" y="440.30" text-anchor="end" style="font-family:'Liberation Sans',sans-serif;font-size:13px" fill="#1a1a1a">2</text>
<text x="36.70" y="389.65" text-anchor="end" style="font-family:'Liberation Sans',sans-serif;font-size:13px" fill="#1a1a1a">3</text>
<text x="36.70" y="339.00" text-anchor="end" style="font-family:'Liberation Sans',sans-serif;font-size:13px" fill="#1a1a1a">4</text>
<text transform="translate(17.90,521.40) rotate(-90)" style="font-family:'Liberation Sans',sans-serif;font-size:16.6px" fill="#1a1a1a">Temperature change (K)</text>
<text x="126.00" y="575.90" style="font-family:'Liberation Sans',sans-serif;font-size:16.6px" fill="#1a1a1a">Initial temperature (K)</text>
<text x="327.00" y="332.00" style="font-family:'Liberation Sans',sans-serif;font-size:17.5px;letter-spacing:1.1px;stroke-width:0.12px" fill="#1a1a1a">(c)</text>
<rect x="60.4" y="324.7" width="136.2" height="39.9" fill="#fff" stroke="#3a3a3a" stroke-width="1.0"/>
<line x1="69.4" y1="335.9" x2="102.4" y2="335.9" stroke="#dc5252" stroke-width="2.1"/>
<text x="106.10" y="340.90" style="font-family:'Liberation Serif',serif;stroke-width:0.05px;font-size:14px" fill="#1a1a1a">From Eq. (12)</text>
<circle cx="86.2" cy="353.8" r="3.7" fill="none" stroke="#1c8e1c" stroke-width="1.2"/>
<text x="106.10" y="358.50" style="font-family:'Liberation Serif',serif;stroke-width:0.05px;font-size:14px" fill="#1a1a1a">From Eq. (19)</text>
<polyline points="417.50,536.73 417.76,536.71 418.02,536.69 418.28,536.66 418.53,536.64 418.79,536.62 419.05,536.60 419.31,536.58 419.57,536.55 419.83,536.53 420.08,536.51 420.34,536.49 420.60,536.46 420.86,536.44 421.12,536.41 421.38,536.39 421.64,536.37 421.89,536.34 422.15,536.32 422.41,536.29 422.67,536.27 422.93,536.24 423.19,536.22 423.44,536.19 423.70,536.17 423.96,536.14 424.22,536.12 424.48,536.09 424.74,536.07 425.00,536.04 425.25,536.01 425.51,535.99 425.77,535.96 426.03,535.93 426.29,535.91 426.55,535.88 426.80,535.85 427.06,535.82 427.32,535.80 427.58,535.77 427.84,535.74 428.10,535.71 428.36,535.68 428.61,535.65 428.87,535.63 429.13,535.60 429.39,535.57 429.65,535.54 429.91,535.51 430.16,535.48 430.42,535.45 430.68,535.42 430.94,535.39 431.20,535.36 431.46,535.33 431.72,535.30 431.97,535.27 432.23,535.24 432.49,535.21 432.75,535.18 433.01,535.15 433.27,535.11 433.52,535.08 433.78,535.05 434.04,535.02 434.30,534.99 434.56,534.95 434.82,534.92 435.08,534.89 435.33,534.86 435.59,534.82 435.85,534.79 436.11,534.76 436.37,534.73 436.63,534.69 436.88,534.66 437.14,534.63 437.40,534.59 437.66,534.56 437.92,534.52 438.18,534.49 438.44,534.46 438.69,534.42 438.95,534.39 439.21,534.35 439.47,534.32 439.73,534.28 439.99,534.25 440.24,534.21 440.50,534.18 440.76,534.14 441.02,534.11 441.28,534.07 441.54,534.03 441.80,534.00 442.05,533.96 442.31,533.93 442.57,533.89 442.83,533.85 443.09,533.82 443.35,533.78 443.61,533.74 443.86,533.71 444.12,533.67 444.38,533.63 444.64,533.59 444.90,533.56 445.16,533.52 445.41,533.48 445.67,533.44 445.93,533.41 446.19,533.37 446.45,533.33 446.71,533.29 446.97,533.25 447.22,533.21 447.48,533.18 447.74,533.14 448.00,533.10 448.26,533.06 448.52,533.02 448.77,532.98 449.03,532.94 449.29,532.90 449.55,532.86 449.81,532.82 450.07,532.78 450.33,532.74 450.58,532.70 450.84,532.66 451.10,532.62 451.36,532.58 451.62,532.54 451.88,532.50 452.13,532.46 452.39,532.42 452.65,532.38 452.91,532.34 453.17,532.30 453.43,532.26 453.69,532.22 453.94,532.17 454.20,532.13 454.46,532.09 454.72,532.05 454.98,532.01 455.24,531.97 455.49,531.92 455.75,531.88 456.01,531.84 456.27,531.80 456.53,531.76 456.79,531.71 457.05,531.67 457.30,531.63 457.56,531.58 457.82,531.54 458.08,531.50 458.34,531.46 458.60,531.41 458.85,531.37 459.11,531.33 459.37,531.28 459.63,531.24 459.89,531.20 460.15,531.15 460.41,531.11 460.66,531.07 460.92,531.02 461.18,530.98 461.44,530.93 461.70,530.89 461.96,530.85 462.21,530.80 462.47,530.76 462.73,530.71 462.99,530.67 463.25,530.62 463.51,530.58 463.77,530.54 464.02,530.49 464.28,530.45 464.54,530.40 464.80,530.36 465.06,530.31 465.32,530.27 465.57,530.22 465.83,530.18 466.09,530.13 466.35,530.09 466.61,530.04 466.87,529.99 467.13,529.95 467.38,529.90 467.64,529.86 467.90,529.81 468.16,529.77 468.42,529.72 468.68,529.67 468.93,529.63 469.19,529.58 469.45,529.54 469.71,529.49 469.97,529.44 470.23,529.40 470.49,529.35 470.74,529.30 471.00,529.25 471.26,529.21 471.52,529.16 471.78,529.11 472.04,529.06 472.29,529.01 472.55,528.96 472.81,528.92 473.07,528.87 473.33,528.82 473.59,528.77 473.85,528.72 474.10,528.67 474.36,528.62 474.62,528.57 474.88,528.52 475.14,528.47 475.40,528.41 475.65,528.36 475.91,528.31 476.17,528.26 476.43,528.21 476.69,528.16 476.95,528.10 477.21,528.05 477.46,528.00 477.72,527.95 477.98,527.89 478.24,527.84 478.50,527.79 478.76,527.73 479.01,527.68 479.27,527.62 479.53,527.57 479.79,527.52 480.05,527.46 480.31,527.41 480.57,527.35 480.82,527.30 481.08,527.24 481.34,527.18 481.60,527.13 481.86,527.07 482.12,527.02 482.37,526.96 482.63,526.90 482.89,526.85 483.15,526.79 483.41,526.73 483.67,526.67 483.93,526.62 484.18,526.56 484.44,526.50 484.70,526.44 484.96,526.38 485.22,526.33 485.48,526.27 485.73,526.21 485.99,526.15 486.25,526.09 486.51,526.03 486.77,525.97 487.03,525.91 487.29,525.85 487.54,525.79 487.80,525.73 488.06,525.67 488.32,525.61 488.58,525.55 488.84,525.49 489.09,525.43 489.35,525.36 489.61,525.30 489.87,525.24 490.13,525.18 490.39,525.12 490.65,525.05 490.90,524.99 491.16,524.93 491.42,524.86 491.68,524.80 491.94,524.74 492.20,524.67 492.45,524.61 492.71,524.55 492.97,524.48 493.23,524.42 493.49,524.35 493.75,524.29 494.01,524.22 494.26,524.16 494.52,524.09 494.78,524.03 495.04,523.96 495.30,523.90 495.56,523.83 495.82,523.77 496.07,523.70 496.33,523.63 496.59,523.57 496.85,523.50 497.11,523.43 497.37,523.37 497.62,523.30 497.88,523.23 498.14,523.16 498.40,523.10 498.66,523.03 498.92,522.96 499.18,522.89 499.43,522.82 499.69,522.75 499.95,522.69 500.21,522.62 500.47,522.55 500.73,522.48 500.98,522.41 501.24,522.34 501.50,522.27 501.76,522.20 502.02,522.13 502.28,522.06 502.54,521.99 502.79,521.92 503.05,521.85 503.31,521.78 503.57,521.70 503.83,521.63 504.09,521.56 504.34,521.49 504.60,521.42 504.86,521.35 505.12,521.27 505.38,521.20 505.64,521.13 505.90,521.06 506.15,520.98 506.41,520.91 506.67,520.84 506.93,520.76 507.19,520.69 507.45,520.62 507.70,520.54 507.96,520.47 508.22,520.40 508.48,520.32 508.74,520.25 509.00,520.17 509.26,520.10 509.51,520.02 509.77,519.95 510.03,519.87 510.29,519.80 510.55,519.72 510.81,519.65 511.06,519.57 511.32,519.50 511.58,519.42 511.84,519.34 512.10,519.27 512.36,519.19 512.62,519.11 512.87,519.04 513.13,518.96 513.39,518.88 513.65,518.81 513.91,518.73 514.17,518.65 514.42,518.57 514.68,518.49 514.94,518.42 515.20,518.34 515.46,518.26 515.72,518.18 515.98,518.10 516.23,518.02 516.49,517.95 516.75,517.87 517.01,517.79 517.27,517.71 517.53,517.63 517.78,517.55 518.04,517.47 518.30,517.39 518.56,517.31 518.82,517.23 519.08,517.15 519.34,517.07 519.59,516.99 519.85,516.91 520.11,516.83 520.37,516.74 520.63,516.66 520.89,516.58 521.14,516.50 521.40,516.42 521.66,516.34 521.92,516.26 522.18,516.17 522.44,516.09 522.70,516.01 522.95,515.93 523.21,515.84 523.47,515.76 523.73,515.68 523.99,515.59 524.25,515.51 524.50,515.42 524.76,515.34 525.02,515.26 525.28,515.17 525.54,515.09 525.80,515.00 526.06,514.92 526.31,514.83 526.57,514.74 526.83,514.66 527.09,514.57 527.35,514.49 527.61,514.40 527.86,514.31 528.12,514.23 528.38,514.14 528.64,514.05 528.90,513.96 529.16,513.88 529.42,513.79 529.67,513.70 529.93,513.61 530.19,513.52 530.45,513.43 530.71,513.34 530.97,513.26 531.22,513.17 531.48,513.08 531.74,512.99 532.00,512.89 532.26,512.80 532.52,512.71 532.78,512.62 533.03,512.53 533.29,512.44 533.55,512.35 533.81,512.26 534.07,512.16 534.33,512.07 534.58,511.98 534.84,511.88 535.10,511.79 535.36,511.70 535.62,511.60 535.88,511.51 536.14,511.41 536.39,511.32 536.65,511.22 536.91,511.13 537.17,511.03 537.43,510.94 537.69,510.84 537.94,510.75 538.20,510.65 538.46,510.55 538.72,510.45 538.98,510.36 539.24,510.26 539.50,510.16 539.75,510.06 540.01,509.96 540.27,509.87 540.53,509.77 540.79,509.67 541.05,509.57 541.30,509.47 541.56,509.37 541.82,509.27 542.08,509.17 542.34,509.06 542.60,508.96 542.86,508.86 543.11,508.76 543.37,508.66 543.63,508.55 543.89,508.45 544.15,508.35 544.41,508.24 544.66,508.14 544.92,508.04 545.18,507.93 545.44,507.83 545.70,507.72 545.96,507.62 546.22,507.51 546.47,507.40 546.73,507.30 546.99,507.19 547.25,507.08 547.51,506.98 547.77,506.87 548.03,506.76 548.28,506.65 548.54,506.54 548.80,506.43 549.06,506.32 549.32,506.22 549.58,506.11 549.83,505.99 550.09,505.88 550.35,505.77 550.61,505.66 550.87,505.55 551.13,505.44 551.39,505.33 551.64,505.21 551.90,505.10 552.16,504.99 552.42,504.87 552.68,504.76 552.94,504.64 553.19,504.53 553.45,504.41 553.71,504.30 553.97,504.18 554.23,504.06 554.49,503.95 554.75,503.83 555.00,503.71 555.26,503.60 555.52,503.48 555.78,503.36 556.04,503.24 556.30,503.12 556.55,503.00 556.81,502.88 557.07,502.76 557.33,502.64 557.59,502.52 557.85,502.40 558.11,502.28 558.36,502.15 558.62,502.03 558.88,501.91 559.14,501.78 559.40,501.66 559.66,501.54 559.91,501.41 560.17,501.29 560.43,501.16 560.69,501.03 560.95,500.91 561.21,500.78 561.47,500.65 561.72,500.53 561.98,500.40 562.24,500.27 562.50,500.14 562.76,500.01 563.02,499.88 563.27,499.75 563.53,499.62 563.79,499.49 564.05,499.36 564.31,499.23 564.57,499.10 564.83,498.97 565.08,498.83 565.34,498.70 565.60,498.57 565.86,498.43 566.12,498.30 566.38,498.16 566.63,498.03 566.89,497.89 567.15,497.76 567.41,497.62 567.67,497.48 567.93,497.35 568.19,497.21 568.44,497.07 568.70,496.93 568.96,496.79 569.22,496.65 569.48,496.51 569.74,496.37 569.99,496.23 570.25,496.09 570.51,495.95 570.77,495.80 571.03,495.66 571.29,495.52 571.55,495.37 571.80,495.23 572.06,495.09 572.32,494.94 572.58,494.80 572.84,494.65 573.10,494.50 573.35,494.35 573.61,494.20 573.87,494.05 574.13,493.90 574.39,493.74 574.65,493.59 574.91,493.43 575.16,493.27 575.42,493.11 575.68,492.95 575.94,492.79 576.20,492.63 576.46,492.47 576.71,492.30 576.97,492.14 577.23,491.97 577.49,491.80 577.75,491.63 578.01,491.46 578.27,491.29 578.52,491.11 578.78,490.94 579.04,490.76 579.30,490.58 579.56,490.41 579.82,490.23 580.07,490.04 580.33,489.86 580.59,489.68 580.85,489.49 581.11,489.31 581.37,489.12 581.63,488.93 581.88,488.74 582.14,488.55 582.40,488.36 582.66,488.17 582.92,487.97 583.18,487.78 583.43,487.58 583.69,487.38 583.95,487.18 584.21,486.98 584.47,486.78 584.73,486.57 584.99,486.37 585.24,486.16 585.50,485.96 585.76,485.75 586.02,485.54 586.28,485.33 586.54,485.12 586.79,484.90 587.05,484.69 587.31,484.47 587.57,484.25 587.83,484.04 588.09,483.82 588.35,483.59 588.60,483.37 588.86,483.15 589.12,482.92 589.38,482.70 589.64,482.47 589.90,482.24 590.15,482.01 590.41,481.78 590.67,481.55 590.93,481.31 591.19,481.08 591.45,480.84 591.71,480.61 591.96,480.37 592.22,480.13 592.48,479.88 592.74,479.64 593.00,479.40 593.26,479.15 593.51,478.90 593.77,478.64 594.03,478.38 594.29,478.12 594.55,477.85 594.81,477.57 595.07,477.29 595.32,477.01 595.58,476.72 595.84,476.43 596.10,476.13 596.36,475.83 596.62,475.53 596.87,475.22 597.13,474.92 597.39,474.60 597.65,474.29 597.91,473.97 598.17,473.65 598.43,473.33 598.68,473.01 598.94,472.69 599.20,472.36 599.46,472.03 599.72,471.70 599.98,471.38 600.24,471.04 600.49,470.71 600.75,470.38 601.01,470.05 601.27,469.72 601.53,469.39 601.79,469.05 602.04,468.72 602.30,468.39 602.56,468.06 602.82,467.74 603.08,467.41 603.34,467.09 603.60,466.76 603.85,466.44 604.11,466.10 604.37,465.76 604.63,465.41 604.89,465.05 605.15,464.67 605.40,464.29 605.66,463.88 605.92,463.46 606.18,463.03 606.44,462.60 606.70,462.16 606.96,461.70 607.21,461.23 607.47,460.74 607.73,460.23 607.99,459.69 608.25,459.13 608.51,458.53 608.76,457.90 609.02,457.24 609.28,456.53 609.54,455.77 609.80,454.92 610.06,453.98 610.32,452.96 610.57,451.86 610.83,450.70 611.09,449.47 611.35,448.19 611.61,446.86 611.87,445.49 612.12,444.09 612.38,442.66 612.64,441.22 612.90,439.75 613.16,438.23 613.42,436.66 613.68,435.03 613.93,433.33 614.19,431.56 614.45,429.71 614.71,427.77 614.97,425.74 615.23,423.62 615.48,421.39 615.74,419.02 616.00,416.38 616.26,413.52 616.52,410.48 616.78,407.29 617.04,404.00 617.29,400.66 617.55,397.19 617.81,393.41 618.07,389.67 618.33,386.31 618.59,383.26 618.84,380.26 619.10,377.01 619.36,373.26 619.62,369.00 619.88,364.61 620.14,360.39 620.40,356.26 620.65,351.99 620.91,347.21 621.17,341.96 621.43,337.96 621.69,334.93 621.95,332.31 622.20,330.34 622.46,329.46 622.72,330.12 622.98,331.02 623.24,332.12 623.50,333.40 623.76,334.83 624.01,336.38 624.27,338.02 624.53,339.73 624.79,341.75 625.05,344.15 625.31,346.79 625.56,349.55 625.82,352.36 626.08,355.34 626.34,358.53 626.60,361.95 626.86,365.69 627.12,369.84 627.37,374.30 627.63,379.09 627.89,384.32 628.15,389.27 628.41,393.71 628.67,398.05 628.92,402.58 629.18,407.23 629.44,411.94 629.70,416.67 629.96,421.36 630.22,425.96 630.48,430.52 630.73,435.18 630.99,439.55 631.25,443.27 631.51,446.46 631.77,449.37 632.03,452.06 632.28,454.60 632.54,457.07 632.80,459.54 633.06,462.07 633.32,464.61 633.58,467.14 633.84,469.61 634.09,471.99 634.35,474.23 634.61,476.30 634.87,478.16 635.13,479.88 635.39,481.52 635.64,483.08 635.90,484.55 636.16,485.94 636.42,487.26 636.68,488.50 636.94,489.67 637.20,490.78 637.45,491.87 637.71,492.92 637.97,493.94 638.23,494.93 638.49,495.87 638.75,496.78 639.00,497.63 639.26,498.44 639.52,499.20 639.78,499.90 640.04,500.54 640.30,501.13 640.56,501.70 640.81,502.24 641.07,502.77 641.33,503.27 641.59,503.76 641.85,504.23 642.11,504.68 642.36,505.11 642.62,505.53 642.88,505.94 643.14,506.33 643.40,506.71 643.66,507.07 643.92,507.42 644.17,507.77 644.43,508.10 644.69,508.42 644.95,508.74 645.21,509.05 645.47,509.35 645.72,509.64 645.98,509.93 646.24,510.21 646.50,510.48 646.76,510.75 647.02,511.01 647.28,511.27 647.53,511.52 647.79,511.77 648.05,512.01 648.31,512.24 648.57,512.47 648.83,512.70 649.08,512.92 649.34,513.14 649.60,513.35 649.86,513.56 650.12,513.77 650.38,513.97 650.64,514.17 650.89,514.37 651.15,514.56 651.41,514.75 651.67,514.94 651.93,515.13 652.19,515.31 652.45,515.49 652.70,515.66 652.96,515.84 653.22,516.00 653.48,516.17 653.74,516.33 654.00,516.49 654.25,516.65 654.51,516.81 654.77,516.96 655.03,517.11 655.29,517.26 655.55,517.41 655.81,517.55 656.06,517.69 656.32,517.84 656.58,517.98 656.84,518.11 657.10,518.25 657.36,518.39 657.61,518.53 657.87,518.66 658.13,518.79 658.39,518.93 658.65,519.06 658.91,519.19 659.17,519.32 659.42,519.44 659.68,519.57 659.94,519.69 660.20,519.82 660.46,519.94 660.72,520.06 660.97,520.18 661.23,520.30 661.49,520.42 661.75,520.54 662.01,520.65 662.27,520.77 662.53,520.89 662.78,521.00 663.04,521.11 663.30,521.23 663.56,521.34 663.82,521.45 664.08,521.56 664.33,521.67 664.59,521.78 664.85,521.89 665.11,522.00 665.37,522.10 665.63,522.21 665.89,522.32 666.14,522.43 666.40,522.54 666.66,522.65 666.92,522.76 667.18,522.87 667.44,522.98 667.69,523.09 667.95,523.20 668.21,523.30 668.47,523.41 668.73,523.52 668.99,523.63 669.25,523.74 669.50,523.84 669.76,523.95 670.02,524.06 670.28,524.16 670.54,524.26 670.80,524.37 671.05,524.47 671.31,524.57 671.57,524.67 671.83,524.76 672.09,524.86 672.35,524.95 672.61,525.05 672.86,525.14 673.12,525.23 673.38,525.32 673.64,525.40 673.90,525.49 674.16,525.57 674.41,525.65 674.67,525.72 674.93,525.80 675.19,525.87 675.45,525.94 675.71,526.01 675.97,526.07 676.22,526.14 676.48,526.20 676.74,526.26 677.00,526.33 677.26,526.39 677.52,526.45 677.77,526.50 678.03,526.56 678.29,526.62 678.55,526.67 678.81,526.73 679.07,526.78 679.33,526.84 679.58,526.89 679.84,526.94 680.10,526.99 680.36,527.05 680.62,527.10 680.88,527.14 681.13,527.19 681.39,527.24 681.65,527.29 681.91,527.34 682.17,527.38 682.43,527.43 682.69,527.48 682.94,527.52 683.20,527.57 683.46,527.61 683.72,527.65 683.98,527.70 684.24,527.74 684.49,527.78 684.75,527.83 685.01,527.87 685.27,527.91 685.53,527.95 685.79,528.00 686.05,528.04 686.30,528.08 686.56,528.12 686.82,528.16 687.08,528.20 687.34,528.24 687.60,528.28 687.85,528.33 688.11,528.37 688.37,528.41 688.63,528.45 688.89,528.49 689.15,528.53 689.41,528.57 689.66,528.61 689.92,528.65 690.18,528.69 690.44,528.73 690.70,528.77 690.96,528.81 691.21,528.85 691.47,528.88 691.73,528.92 691.99,528.96 692.25,529.00 692.51,529.03 692.77,529.07 693.02,529.11 693.28,529.14 693.54,529.18 693.80,529.21 694.06,529.25 694.32,529.29 694.57,529.32 694.83,529.36 695.09,529.39 695.35,529.43 695.61,529.46 695.87,529.50 696.13,529.53 696.38,529.56 696.64,529.60 696.90,529.63 697.16,529.67 697.42,529.70 697.68,529.73 697.93,529.77 698.19,529.80 698.45,529.84 698.71,529.87 698.97,529.90 699.23,529.94 699.49,529.97 699.74,530.00 700.00,530.04 700.26,530.07 700.52,530.10 700.78,530.14 701.04,530.17 701.29,530.20 701.55,530.24 701.81,530.27 702.07,530.30 702.33,530.34 702.59,530.37 702.85,530.40 703.10,530.44 703.36,530.47 703.62,530.50 703.88,530.53 704.14,530.57 704.40,530.60 704.66,530.63 704.91,530.67 705.17,530.70 705.43,530.73 705.69,530.76 705.95,530.80 706.21,530.83 706.46,530.86 706.72,530.89 706.98,530.93 707.24,530.96 707.50,530.99 707.76,531.02 708.02,531.05 708.27,531.09 708.53,531.12 708.79,531.15 709.05,531.18 709.31,531.21 709.57,531.24 709.82,531.27 710.08,531.30 710.34,531.33 710.60,531.36 710.86,531.39 711.12,531.42 711.38,531.45 711.63,531.48 711.89,531.51 712.15,531.54 712.41,531.57 712.67,531.60 712.93,531.63 713.18,531.66 713.44,531.68 713.70,531.71 713.96,531.74 714.22,531.77 714.48,531.79 714.74,531.82 714.99,531.85 715.25,531.88 715.51,531.90 715.77,531.93 716.03,531.96 716.29,531.98 716.54,532.01 716.80,532.03 717.06,532.06 717.32,532.09 717.58,532.11 717.84,532.14 718.10,532.16 718.35,532.19 718.61,532.22 718.87,532.24 719.13,532.27 719.39,532.29 719.65,532.32 719.90,532.34 720.16,532.36 720.42,532.39 720.68,532.41 720.94,532.44 721.20,532.46 721.46,532.49 721.71,532.51 721.97,532.53 722.23,532.56 722.49,532.58 722.75,532.60 723.01,532.63 723.26,532.65 723.52,532.67 723.78,532.69 724.04,532.72 724.30,532.74 724.56,532.76 724.82,532.78 725.07,532.81 725.33,532.83 725.59,532.85 725.85,532.87 726.11,532.89 726.37,532.91 726.62,532.93 726.88,532.96 727.14,532.98 727.40,533.00" fill="none" stroke="#000" stroke-width="2" stroke-dasharray="4 3.3" stroke-linejoin="round"/>
<g clip-path="url(#cd)" fill="#fff" stroke="#2323e6" stroke-width="1.0"><path d="M413.90,533.89 H421.10 L417.50,540.09 Z"/>
<path d="M416.48,533.69 H423.68 L420.08,539.89 Z"/>
<path d="M419.06,533.48 H426.27 L422.67,539.68 Z"/>
<path d="M421.65,533.26 H428.85 L425.25,539.46 Z"/>
<path d="M424.23,533.02 H431.43 L427.83,539.22 Z"/>
<path d="M426.81,532.76 H434.01 L430.41,538.96 Z"/>
<path d="M429.39,532.49 H436.60 L433.00,538.69 Z"/>
<path d="M431.98,532.20 H439.18 L435.58,538.40 Z"/>
<path d="M434.56,531.90 H441.76 L438.16,538.10 Z"/>
<path d="M437.14,531.58 H444.34 L440.74,537.78 Z"/>
<path d="M439.72,531.25 H446.93 L443.32,537.45 Z"/>
<path d="M442.31,530.91 H449.51 L445.91,537.11 Z"/>
<path d="M444.89,530.55 H452.09 L448.49,536.75 Z"/>
<path d="M447.47,530.18 H454.67 L451.07,536.38 Z"/>
<path d="M450.05,529.80 H457.25 L453.65,536.00 Z"/>
<path d="M452.64,529.41 H459.84 L456.24,535.61 Z"/>
<path d="M455.22,529.01 H462.42 L458.82,535.21 Z"/>
<path d="M457.80,528.60 H465.00 L461.40,534.80 Z"/>
<path d="M460.38,528.17 H467.59 L463.99,534.37 Z"/>
<path d="M462.97,527.73 H470.17 L466.57,533.93 Z"/>
<path d="M465.55,527.28 H472.75 L469.15,533.48 Z"/>
<path d="M468.13,526.81 H475.33 L471.73,533.01 Z"/>
<path d="M470.71,526.32 H477.92 L474.31,532.52 Z"/>
<path d="M473.30,525.82 H480.50 L476.90,532.02 Z"/>
<path d="M475.88,525.30 H483.08 L479.48,531.50 Z"/>
<path d="M478.46,524.76 H485.66 L482.06,530.96 Z"/>
<path d="M481.04,524.20 H488.25 L484.64,530.40 Z"/>
<path d="M483.63,523.63 H490.83 L487.23,529.83 Z"/>
<path d="M486.21,523.04 H493.41 L489.81,529.24 Z"/>
<path d="M488.79,522.43 H495.99 L492.39,528.63 Z"/>
<path d="M491.38,521.82 H498.58 L494.98,528.02 Z"/>
<path d="M493.96,521.18 H501.16 L497.56,527.38 Z"/>
<path d="M496.54,520.54 H503.74 L500.14,526.74 Z"/>
<path d="M499.12,519.89 H506.32 L502.72,526.09 Z"/>
<path d="M501.70,519.22 H508.91 L505.31,525.42 Z"/>
<path d="M504.29,518.53 H511.49 L507.89,524.73 Z"/>
<path d="M506.87,517.83 H514.07 L510.47,524.03 Z"/>
<path d="M509.45,517.12 H516.65 L513.05,523.32 Z"/>
<path d="M512.03,516.39 H519.24 L515.63,522.59 Z"/>
<path d="M514.62,515.65 H521.82 L518.22,521.85 Z"/>
<path d="M517.20,514.90 H524.40 L520.80,521.10 Z"/>
<path d="M519.78,514.13 H526.98 L523.38,520.33 Z"/>
<path d="M522.37,513.35 H529.57 L525.97,519.55 Z"/>
<path d="M524.95,512.55 H532.15 L528.55,518.75 Z"/>
<path d="M527.53,511.73 H534.73 L531.13,517.93 Z"/>
<path d="M530.11,510.90 H537.31 L533.71,517.10 Z"/>
<path d="M532.69,510.04 H539.89 L536.29,516.24 Z"/>
<path d="M535.28,509.14 H542.48 L538.88,515.34 Z"/>
<path d="M537.86,508.22 H545.06 L541.46,514.42 Z"/>
<path d="M540.44,507.26 H547.64 L544.04,513.46 Z"/>
<path d="M543.02,506.27 H550.23 L546.62,512.47 Z"/>
<path d="M545.61,505.25 H552.81 L549.21,511.45 Z"/>
<path d="M548.19,504.20 H555.39 L551.79,510.40 Z"/>
<path d="M550.77,503.09 H557.97 L554.37,509.29 Z"/>
<path d="M553.35,501.94 H560.55 L556.95,508.14 Z"/>
<path d="M555.94,500.73 H563.14 L559.54,506.93 Z"/>
<path d="M558.52,499.47 H565.72 L562.12,505.67 Z"/>
<path d="M561.10,498.18 H568.30 L564.70,504.38 Z"/>
<path d="M563.68,496.84 H570.88 L567.28,503.04 Z"/>
<path d="M566.27,495.46 H573.47 L569.87,501.66 Z"/>
<path d="M568.85,494.00 H576.05 L572.45,500.20 Z"/>
<path d="M571.43,492.45 H578.63 L575.03,498.65 Z"/>
<path d="M574.01,490.86 H581.22 L577.62,497.06 Z"/>
<path d="M576.60,489.19 H583.80 L580.20,495.39 Z"/>
<path d="M579.18,487.38 H586.38 L582.78,493.58 Z"/>
<path d="M581.76,485.36 H588.96 L585.36,491.56 Z"/>
<path d="M584.34,483.09 H591.54 L587.94,489.29 Z"/>
<path d="M586.93,480.70 H594.13 L590.53,486.90 Z"/>
<path d="M589.51,478.34 H596.71 L593.11,484.54 Z"/>
<path d="M592.09,476.05 H599.29 L595.69,482.25 Z"/>
<path d="M594.67,473.61 H601.88 L598.27,479.81 Z"/>
<path d="M597.26,470.76 H604.46 L600.86,476.96 Z"/>
<path d="M599.84,467.40 H607.04 L603.44,473.60 Z"/>
<path d="M602.42,464.51 H609.62 L606.02,470.71 Z"/>
<path d="M605.00,463.32 H612.21 L608.61,469.52 Z"/>
<path d="M607.59,463.33 H614.79 L611.19,469.53 Z"/>
<path d="M610.17,464.01 H617.37 L613.77,470.21 Z"/>
<path d="M612.75,463.07 H619.95 L616.35,469.27 Z"/>
<path d="M615.33,460.13 H622.53 L618.93,466.33 Z"/>
<path d="M617.92,457.37 H625.12 L621.52,463.57 Z"/>
<path d="M620.50,465.48 H627.70 L624.10,471.68 Z"/>
<path d="M623.08,472.62 H630.28 L626.68,478.82 Z"/>
<path d="M625.66,480.73 H632.87 L629.26,486.94 Z"/>
<path d="M628.25,487.87 H635.45 L631.85,494.07 Z"/>
<path d="M630.83,493.71 H638.03 L634.43,499.92 Z"/>
<path d="M633.41,498.26 H640.61 L637.01,504.46 Z"/>
<path d="M636.00,501.83 H643.20 L639.60,508.03 Z"/>
<path d="M638.58,504.21 H645.78 L642.18,510.41 Z"/>
<path d="M641.16,507.30 H648.36 L644.76,513.50 Z"/>
<path d="M643.74,510.06 H650.94 L647.34,516.26 Z"/>
<path d="M646.32,512.54 H653.52 L649.92,518.74 Z"/>
<path d="M648.91,514.25 H656.11 L652.51,520.45 Z"/>
<path d="M651.49,515.83 H658.69 L655.09,522.03 Z"/>
<path d="M654.07,517.25 H661.27 L657.67,523.45 Z"/>
<path d="M656.65,518.47 H663.86 L660.25,524.67 Z"/>
<path d="M659.24,519.47 H666.44 L662.84,525.67 Z"/>
<path d="M661.82,520.29 H669.02 L665.42,526.49 Z"/>
<path d="M664.40,521.21 H671.60 L668.00,527.41 Z"/>
<path d="M666.99,522.03 H674.19 L670.59,528.23 Z"/>
<path d="M669.57,522.76 H676.77 L673.17,528.96 Z"/>
<path d="M672.15,523.41 H679.35 L675.75,529.61 Z"/>
<path d="M674.73,523.98 H681.93 L678.33,530.18 Z"/>
<path d="M677.31,524.49 H684.51 L680.91,530.69 Z"/>
<path d="M679.90,524.96 H687.10 L683.50,531.16 Z"/>
<path d="M682.48,525.40 H689.68 L686.08,531.60 Z"/>
<path d="M685.06,525.84 H692.26 L688.66,532.04 Z"/>
<path d="M687.64,526.28 H694.84 L691.24,532.48 Z"/>
<path d="M690.23,526.70 H697.43 L693.83,532.90 Z"/>
<path d="M692.81,527.11 H700.01 L696.41,533.31 Z"/>
<path d="M695.39,527.49 H702.59 L698.99,533.69 Z"/>
<path d="M697.98,527.85 H705.18 L701.58,534.05 Z"/>
<path d="M700.56,528.19 H707.76 L704.16,534.39 Z"/>
<path d="M703.14,528.50 H710.34 L706.74,534.70 Z"/>
<path d="M705.72,528.80 H712.92 L709.32,535.00 Z"/>
<path d="M708.30,529.08 H715.50 L711.90,535.28 Z"/>
<path d="M710.89,529.35 H718.09 L714.49,535.55 Z"/>
<path d="M713.47,529.60 H720.67 L717.07,535.80 Z"/>
<path d="M716.05,529.85 H723.25 L719.65,536.05 Z"/>
<path d="M718.63,530.08 H725.83 L722.23,536.28 Z"/>
<path d="M721.22,530.30 H728.42 L724.82,536.50 Z"/>
<path d="M723.80,530.51 H731.00 L727.40,536.71 Z"/></g>
<polyline points="417.50,536.99 417.76,536.97 418.02,536.95 418.28,536.92 418.53,536.90 418.79,536.88 419.05,536.86 419.31,536.84 419.57,536.82 419.83,536.79 420.08,536.77 420.34,536.75 420.60,536.73 420.86,536.70 421.12,536.68 421.38,536.66 421.64,536.63 421.89,536.61 422.15,536.59 422.41,536.56 422.67,536.54 422.93,536.51 423.19,536.49 423.44,536.47 423.70,536.44 423.96,536.42 424.22,536.39 424.48,536.37 424.74,536.34 425.00,536.32 425.25,536.29 425.51,536.26 425.77,536.24 426.03,536.21 426.29,536.19 426.55,536.16 426.80,536.13 427.06,536.11 427.32,536.08 427.58,536.06 427.84,536.03 428.10,536.00 428.36,535.97 428.61,535.95 428.87,535.92 429.13,535.89 429.39,535.87 429.65,535.84 429.91,535.81 430.16,535.78 430.42,535.75 430.68,535.73 430.94,535.70 431.20,535.67 431.46,535.64 431.72,535.61 431.97,535.58 432.23,535.55 432.49,535.52 432.75,535.49 433.01,535.46 433.27,535.43 433.52,535.40 433.78,535.37 434.04,535.34 434.30,535.31 434.56,535.28 434.82,535.25 435.08,535.21 435.33,535.18 435.59,535.15 435.85,535.12 436.11,535.09 436.37,535.05 436.63,535.02 436.88,534.99 437.14,534.95 437.40,534.92 437.66,534.89 437.92,534.86 438.18,534.82 438.44,534.79 438.69,534.75 438.95,534.72 439.21,534.69 439.47,534.65 439.73,534.62 439.99,534.58 440.24,534.55 440.50,534.51 440.76,534.48 441.02,534.45 441.28,534.41 441.54,534.38 441.80,534.34 442.05,534.31 442.31,534.27 442.57,534.24 442.83,534.20 443.09,534.16 443.35,534.13 443.61,534.09 443.86,534.06 444.12,534.02 444.38,533.99 444.64,533.95 444.90,533.91 445.16,533.88 445.41,533.84 445.67,533.80 445.93,533.77 446.19,533.73 446.45,533.69 446.71,533.65 446.97,533.62 447.22,533.58 447.48,533.54 447.74,533.50 448.00,533.47 448.26,533.43 448.52,533.39 448.77,533.35 449.03,533.31 449.29,533.27 449.55,533.23 449.81,533.19 450.07,533.15 450.33,533.12 450.58,533.08 450.84,533.04 451.10,533.00 451.36,532.96 451.62,532.92 451.88,532.88 452.13,532.84 452.39,532.80 452.65,532.76 452.91,532.72 453.17,532.67 453.43,532.63 453.69,532.59 453.94,532.55 454.20,532.51 454.46,532.47 454.72,532.43 454.98,532.39 455.24,532.35 455.49,532.31 455.75,532.26 456.01,532.22 456.27,532.18 456.53,532.14 456.79,532.10 457.05,532.05 457.30,532.01 457.56,531.97 457.82,531.93 458.08,531.89 458.34,531.84 458.60,531.80 458.85,531.76 459.11,531.71 459.37,531.67 459.63,531.63 459.89,531.59 460.15,531.54 460.41,531.50 460.66,531.45 460.92,531.41 461.18,531.37 461.44,531.32 461.70,531.28 461.96,531.23 462.21,531.19 462.47,531.15 462.73,531.10 462.99,531.06 463.25,531.01 463.51,530.97 463.77,530.92 464.02,530.88 464.28,530.83 464.54,530.78 464.80,530.74 465.06,530.69 465.32,530.65 465.57,530.60 465.83,530.55 466.09,530.51 466.35,530.46 466.61,530.41 466.87,530.37 467.13,530.32 467.38,530.27 467.64,530.23 467.90,530.18 468.16,530.13 468.42,530.08 468.68,530.03 468.93,529.99 469.19,529.94 469.45,529.89 469.71,529.84 469.97,529.79 470.23,529.74 470.49,529.69 470.74,529.64 471.00,529.60 471.26,529.55 471.52,529.50 471.78,529.45 472.04,529.40 472.29,529.34 472.55,529.29 472.81,529.24 473.07,529.19 473.33,529.14 473.59,529.09 473.85,529.04 474.10,528.99 474.36,528.94 474.62,528.88 474.88,528.83 475.14,528.78 475.40,528.73 475.65,528.67 475.91,528.62 476.17,528.57 476.43,528.52 476.69,528.46 476.95,528.41 477.21,528.35 477.46,528.30 477.72,528.25 477.98,528.19 478.24,528.14 478.50,528.08 478.76,528.03 479.01,527.98 479.27,527.92 479.53,527.87 479.79,527.81 480.05,527.75 480.31,527.70 480.57,527.64 480.82,527.59 481.08,527.53 481.34,527.48 481.60,527.42 481.86,527.36 482.12,527.31 482.37,527.25 482.63,527.19 482.89,527.14 483.15,527.08 483.41,527.02 483.67,526.96 483.93,526.90 484.18,526.85 484.44,526.79 484.70,526.73 484.96,526.67 485.22,526.61 485.48,526.55 485.73,526.49 485.99,526.43 486.25,526.37 486.51,526.31 486.77,526.25 487.03,526.19 487.29,526.13 487.54,526.07 487.80,526.01 488.06,525.95 488.32,525.89 488.58,525.83 488.84,525.77 489.09,525.70 489.35,525.64 489.61,525.58 489.87,525.52 490.13,525.46 490.39,525.39 490.65,525.33 490.90,525.27 491.16,525.21 491.42,525.14 491.68,525.08 491.94,525.02 492.20,524.95 492.45,524.89 492.71,524.83 492.97,524.76 493.23,524.70 493.49,524.64 493.75,524.57 494.01,524.51 494.26,524.44 494.52,524.38 494.78,524.32 495.04,524.25 495.30,524.19 495.56,524.12 495.82,524.06 496.07,523.99 496.33,523.93 496.59,523.86 496.85,523.80 497.11,523.73 497.37,523.67 497.62,523.60 497.88,523.54 498.14,523.47 498.40,523.41 498.66,523.34 498.92,523.27 499.18,523.21 499.43,523.14 499.69,523.07 499.95,523.01 500.21,522.94 500.47,522.88 500.73,522.81 500.98,522.74 501.24,522.67 501.50,522.61 501.76,522.54 502.02,522.47 502.28,522.40 502.54,522.34 502.79,522.27 503.05,522.20 503.31,522.13 503.57,522.06 503.83,522.00 504.09,521.93 504.34,521.86 504.60,521.79 504.86,521.72 505.12,521.65 505.38,521.58 505.64,521.51 505.90,521.44 506.15,521.37 506.41,521.30 506.67,521.23 506.93,521.16 507.19,521.09 507.45,521.02 507.70,520.95 507.96,520.88 508.22,520.81 508.48,520.74 508.74,520.67 509.00,520.60 509.26,520.52 509.51,520.45 509.77,520.38 510.03,520.31 510.29,520.24 510.55,520.16 510.81,520.09 511.06,520.02 511.32,519.95 511.58,519.87 511.84,519.80 512.10,519.73 512.36,519.65 512.62,519.58 512.87,519.51 513.13,519.43 513.39,519.36 513.65,519.29 513.91,519.21 514.17,519.14 514.42,519.06 514.68,518.99 514.94,518.91 515.20,518.84 515.46,518.76 515.72,518.69 515.98,518.61 516.23,518.54 516.49,518.46 516.75,518.39 517.01,518.31 517.27,518.24 517.53,518.16 517.78,518.08 518.04,518.01 518.30,517.93 518.56,517.86 518.82,517.78 519.08,517.70 519.34,517.63 519.59,517.55 519.85,517.47 520.11,517.39 520.37,517.32 520.63,517.24 520.89,517.16 521.14,517.08 521.40,517.01 521.66,516.93 521.92,516.85 522.18,516.77 522.44,516.69 522.70,516.61 522.95,516.54 523.21,516.46 523.47,516.38 523.73,516.30 523.99,516.22 524.25,516.14 524.50,516.06 524.76,515.98 525.02,515.90 525.28,515.82 525.54,515.74 525.80,515.66 526.06,515.58 526.31,515.50 526.57,515.42 526.83,515.33 527.09,515.25 527.35,515.17 527.61,515.09 527.86,515.01 528.12,514.93 528.38,514.84 528.64,514.76 528.90,514.68 529.16,514.60 529.42,514.51 529.67,514.43 529.93,514.35 530.19,514.26 530.45,514.18 530.71,514.10 530.97,514.01 531.22,513.93 531.48,513.84 531.74,513.76 532.00,513.67 532.26,513.59 532.52,513.50 532.78,513.42 533.03,513.33 533.29,513.25 533.55,513.16 533.81,513.07 534.07,512.99 534.33,512.90 534.58,512.81 534.84,512.73 535.10,512.64 535.36,512.55 535.62,512.46 535.88,512.37 536.14,512.28 536.39,512.19 536.65,512.10 536.91,512.01 537.17,511.92 537.43,511.83 537.69,511.74 537.94,511.65 538.20,511.56 538.46,511.47 538.72,511.38 538.98,511.28 539.24,511.19 539.50,511.10 539.75,511.00 540.01,510.91 540.27,510.81 540.53,510.72 540.79,510.62 541.05,510.53 541.30,510.43 541.56,510.34 541.82,510.24 542.08,510.14 542.34,510.05 542.60,509.95 542.86,509.85 543.11,509.75 543.37,509.66 543.63,509.56 543.89,509.46 544.15,509.36 544.41,509.26 544.66,509.16 544.92,509.06 545.18,508.96 545.44,508.86 545.70,508.76 545.96,508.66 546.22,508.56 546.47,508.46 546.73,508.36 546.99,508.25 547.25,508.15 547.51,508.05 547.77,507.95 548.03,507.84 548.28,507.74 548.54,507.63 548.80,507.53 549.06,507.42 549.32,507.32 549.58,507.21 549.83,507.11 550.09,507.00 550.35,506.89 550.61,506.79 550.87,506.68 551.13,506.57 551.39,506.46 551.64,506.35 551.90,506.24 552.16,506.13 552.42,506.02 552.68,505.91 552.94,505.80 553.19,505.69 553.45,505.58 553.71,505.46 553.97,505.35 554.23,505.24 554.49,505.12 554.75,505.01 555.00,504.89 555.26,504.78 555.52,504.66 555.78,504.54 556.04,504.42 556.30,504.31 556.55,504.19 556.81,504.07 557.07,503.95 557.33,503.83 557.59,503.71 557.85,503.58 558.11,503.46 558.36,503.34 558.62,503.22 558.88,503.09 559.14,502.97 559.40,502.84 559.66,502.72 559.91,502.59 560.17,502.47 560.43,502.34 560.69,502.21 560.95,502.09 561.21,501.96 561.47,501.83 561.72,501.70 561.98,501.57 562.24,501.44 562.50,501.31 562.76,501.18 563.02,501.05 563.27,500.92 563.53,500.79 563.79,500.66 564.05,500.52 564.31,500.39 564.57,500.26 564.83,500.13 565.08,499.99 565.34,499.86 565.60,499.72 565.86,499.59 566.12,499.45 566.38,499.32 566.63,499.18 566.89,499.05 567.15,498.91 567.41,498.77 567.67,498.64 567.93,498.50 568.19,498.36 568.44,498.22 568.70,498.08 568.96,497.94 569.22,497.80 569.48,497.65 569.74,497.51 569.99,497.37 570.25,497.22 570.51,497.08 570.77,496.93 571.03,496.78 571.29,496.64 571.55,496.49 571.80,496.34 572.06,496.19 572.32,496.04 572.58,495.89 572.84,495.74 573.10,495.58 573.35,495.43 573.61,495.28 573.87,495.12 574.13,494.97 574.39,494.81 574.65,494.66 574.91,494.50 575.16,494.35 575.42,494.19 575.68,494.04 575.94,493.88 576.20,493.72 576.46,493.57 576.71,493.41 576.97,493.25 577.23,493.09 577.49,492.93 577.75,492.77 578.01,492.61 578.27,492.44 578.52,492.28 578.78,492.12 579.04,491.95 579.30,491.78 579.56,491.62 579.82,491.45 580.07,491.28 580.33,491.10 580.59,490.93 580.85,490.76 581.11,490.58 581.37,490.40 581.63,490.22 581.88,490.04 582.14,489.86 582.40,489.68 582.66,489.49 582.92,489.30 583.18,489.11 583.43,488.92 583.69,488.73 583.95,488.53 584.21,488.33 584.47,488.13 584.73,487.92 584.99,487.71 585.24,487.50 585.50,487.28 585.76,487.06 586.02,486.84 586.28,486.62 586.54,486.40 586.79,486.17 587.05,485.94 587.31,485.71 587.57,485.48 587.83,485.25 588.09,485.01 588.35,484.78 588.60,484.54 588.86,484.30 589.12,484.06 589.38,483.83 589.64,483.59 589.90,483.35 590.15,483.11 590.41,482.87 590.67,482.63 590.93,482.39 591.19,482.16 591.45,481.92 591.71,481.68 591.96,481.45 592.22,481.22 592.48,480.98 592.74,480.75 593.00,480.52 593.26,480.29 593.51,480.06 593.77,479.84 594.03,479.61 594.29,479.38 594.55,479.16 594.81,478.93 595.07,478.70 595.32,478.47 595.58,478.24 595.84,478.01 596.10,477.78 596.36,477.54 596.62,477.31 596.87,477.07 597.13,476.83 597.39,476.58 597.65,476.33 597.91,476.08 598.17,475.83 598.43,475.57 598.68,475.31 598.94,475.03 599.20,474.76 599.46,474.47 599.72,474.18 599.98,473.89 600.24,473.60 600.49,473.30 600.75,473.00 601.01,472.71 601.27,472.41 601.53,472.11 601.79,471.82 602.04,471.52 602.30,471.23 602.56,470.95 602.82,470.66 603.08,470.39 603.34,470.12 603.60,469.85 603.85,469.60 604.11,469.33 604.37,469.06 604.63,468.78 604.89,468.52 605.15,468.27 605.40,468.04 605.66,467.84 605.92,467.67 606.18,467.53 606.44,467.39 606.70,467.25 606.96,467.12 607.21,466.99 607.47,466.86 607.73,466.75 607.99,466.64 608.25,466.54 608.51,466.45 608.76,466.38 609.02,466.31 609.28,466.26 609.54,466.23 609.80,466.22 610.06,466.22 610.32,466.24 610.57,466.28 610.83,466.33 611.09,466.40 611.35,466.47 611.61,466.55 611.87,466.64 612.12,466.72 612.38,466.81 612.64,466.88 612.90,466.96 613.16,467.02 613.42,467.07 613.68,467.10 613.93,467.12 614.19,467.12 614.45,467.08 614.71,467.02 614.97,466.93 615.23,466.82 615.48,466.70 615.74,466.55 616.00,466.40 616.26,466.23 616.52,466.06 616.78,465.89 617.04,465.70 617.29,465.44 617.55,465.12 617.81,464.77 618.07,464.40 618.33,464.03 618.59,463.66 618.84,463.33 619.10,463.05 619.36,462.82 619.62,462.61 619.88,462.40 620.14,462.21 620.40,462.03 620.65,461.86 620.91,461.71 621.17,461.58 621.43,461.70 621.69,462.00 621.95,462.36 622.20,462.77 622.46,463.23 622.72,463.75 622.98,464.32 623.24,464.95 623.50,465.65 623.76,466.38 624.01,467.12 624.27,467.83 624.53,468.46 624.79,469.01 625.05,469.51 625.31,469.98 625.56,470.52 625.82,471.10 626.08,471.69 626.34,472.29 626.60,472.91 626.86,473.58 627.12,474.27 627.37,474.97 627.63,475.70 627.89,476.44 628.15,477.18 628.41,477.94 628.67,478.69 628.92,479.45 629.18,480.19 629.44,480.93 629.70,481.66 629.96,482.38 630.22,483.09 630.48,483.81 630.73,484.53 630.99,485.24 631.25,485.95 631.51,486.66 631.77,487.36 632.03,488.06 632.28,488.75 632.54,489.43 632.80,490.11 633.06,490.77 633.32,491.43 633.58,492.10 633.84,492.75 634.09,493.38 634.35,493.96 634.61,494.49 634.87,494.99 635.13,495.47 635.39,495.93 635.64,496.38 635.90,496.81 636.16,497.24 636.42,497.65 636.68,498.07 636.94,498.48 637.20,498.89 637.45,499.31 637.71,499.72 637.97,500.13 638.23,500.54 638.49,500.94 638.75,501.34 639.00,501.73 639.26,502.11 639.52,502.49 639.78,502.85 640.04,503.20 640.30,503.54 640.56,503.87 640.81,504.18 641.07,504.49 641.33,504.79 641.59,505.10 641.85,505.39 642.11,505.69 642.36,506.01 642.62,506.34 642.88,506.67 643.14,506.99 643.40,507.31 643.66,507.63 643.92,507.94 644.17,508.25 644.43,508.56 644.69,508.86 644.95,509.16 645.21,509.46 645.47,509.75 645.72,510.04 645.98,510.33 646.24,510.61 646.50,510.89 646.76,511.17 647.02,511.44 647.28,511.72 647.53,511.98 647.79,512.25 648.05,512.51 648.31,512.77 648.57,513.03 648.83,513.29 649.08,513.54 649.34,513.79 649.60,514.03 649.86,514.28 650.12,514.49 650.38,514.68 650.64,514.88 650.89,515.08 651.15,515.27 651.41,515.46 651.67,515.65 651.93,515.84 652.19,516.03 652.45,516.22 652.70,516.41 652.96,516.59 653.22,516.78 653.48,516.96 653.74,517.14 654.00,517.32 654.25,517.50 654.51,517.67 654.77,517.85 655.03,518.02 655.29,518.19 655.55,518.36 655.81,518.53 656.06,518.70 656.32,518.86 656.58,519.03 656.84,519.19 657.10,519.35 657.36,519.51 657.61,519.66 657.87,519.82 658.13,519.97 658.39,520.12 658.65,520.27 658.91,520.41 659.17,520.55 659.42,520.70 659.68,520.84 659.94,520.97 660.20,521.11 660.46,521.24 660.72,521.37 660.97,521.50 661.23,521.63 661.49,521.75 661.75,521.87 662.01,521.99 662.27,522.11 662.53,522.22 662.78,522.33 663.04,522.44 663.30,522.55 663.56,522.65 663.82,522.76 664.08,522.86 664.33,522.97 664.59,523.07 664.85,523.17 665.11,523.27 665.37,523.37 665.63,523.47 665.89,523.56 666.14,523.66 666.40,523.75 666.66,523.84 666.92,523.94 667.18,524.03 667.44,524.12 667.69,524.20 667.95,524.29 668.21,524.38 668.47,524.46 668.73,524.55 668.99,524.63 669.25,524.71 669.50,524.80 669.76,524.88 670.02,524.96 670.28,525.04 670.54,525.11 670.80,525.19 671.05,525.27 671.31,525.34 671.57,525.42 671.83,525.49 672.09,525.56 672.35,525.63 672.61,525.71 672.86,525.78 673.12,525.84 673.38,525.91 673.64,525.98 673.90,526.05 674.16,526.11 674.41,526.18 674.67,526.24 674.93,526.31 675.19,526.37 675.45,526.43 675.71,526.50 675.97,526.56 676.22,526.62 676.48,526.68 676.74,526.74 677.00,526.79 677.26,526.85 677.52,526.91 677.77,526.96 678.03,527.02 678.29,527.07 678.55,527.13 678.81,527.18 679.07,527.23 679.33,527.29 679.58,527.34 679.84,527.39 680.10,527.44 680.36,527.49 680.62,527.54 680.88,527.59 681.13,527.64 681.39,527.68 681.65,527.73 681.91,527.78 682.17,527.83 682.43,527.87 682.69,527.92 682.94,527.96 683.20,528.01 683.46,528.05 683.72,528.10 683.98,528.14 684.24,528.19 684.49,528.23 684.75,528.28 685.01,528.32 685.27,528.37 685.53,528.41 685.79,528.45 686.05,528.50 686.30,528.54 686.56,528.59 686.82,528.63 687.08,528.67 687.34,528.72 687.60,528.76 687.85,528.80 688.11,528.85 688.37,528.89 688.63,528.93 688.89,528.98 689.15,529.02 689.41,529.07 689.66,529.11 689.92,529.15 690.18,529.20 690.44,529.24 690.70,529.29 690.96,529.33 691.21,529.37 691.47,529.41 691.73,529.46 691.99,529.50 692.25,529.54 692.51,529.59 692.77,529.63 693.02,529.67 693.28,529.71 693.54,529.76 693.80,529.80 694.06,529.84 694.32,529.88 694.57,529.92 694.83,529.96 695.09,530.00 695.35,530.04 695.61,530.08 695.87,530.12 696.13,530.17 696.38,530.20 696.64,530.24 696.90,530.28 697.16,530.32 697.42,530.36 697.68,530.40 697.93,530.44 698.19,530.48 698.45,530.52 698.71,530.55 698.97,530.59 699.23,530.63 699.49,530.66 699.74,530.70 700.00,530.74 700.26,530.77 700.52,530.81 700.78,530.85 701.04,530.88 701.29,530.92 701.55,530.95 701.81,530.98 702.07,531.02 702.33,531.05 702.59,531.09 702.85,531.12 703.10,531.15 703.36,531.18 703.62,531.22 703.88,531.25 704.14,531.28 704.40,531.31 704.66,531.35 704.91,531.38 705.17,531.41 705.43,531.44 705.69,531.47 705.95,531.50 706.21,531.54 706.46,531.57 706.72,531.60 706.98,531.63 707.24,531.66 707.50,531.69 707.76,531.72 708.02,531.75 708.27,531.78 708.53,531.81 708.79,531.84 709.05,531.86 709.31,531.89 709.57,531.92 709.82,531.95 710.08,531.98 710.34,532.01 710.60,532.04 710.86,532.06 711.12,532.09 711.38,532.12 711.63,532.15 711.89,532.18 712.15,532.20 712.41,532.23 712.67,532.26 712.93,532.28 713.18,532.31 713.44,532.34 713.70,532.36 713.96,532.39 714.22,532.42 714.48,532.44 714.74,532.47 714.99,532.50 715.25,532.52 715.51,532.55 715.77,532.57 716.03,532.60 716.29,532.63 716.54,532.65 716.80,532.68 717.06,532.70 717.32,532.73 717.58,532.75 717.84,532.78 718.10,532.80 718.35,532.83 718.61,532.85 718.87,532.88 719.13,532.90 719.39,532.92 719.65,532.95 719.90,532.97 720.16,533.00 720.42,533.02 720.68,533.04 720.94,533.07 721.20,533.09 721.46,533.11 721.71,533.14 721.97,533.16 722.23,533.18 722.49,533.21 722.75,533.23 723.01,533.25 723.26,533.27 723.52,533.30 723.78,533.32 724.04,533.34 724.30,533.36 724.56,533.38 724.82,533.40 725.07,533.43 725.33,533.45 725.59,533.47 725.85,533.49 726.11,533.51 726.37,533.53 726.62,533.55 726.88,533.57 727.14,533.59 727.40,533.61" fill="none" stroke="#ee1c1c" stroke-width="1.5" stroke-linejoin="round"/>
<path d="M417.5,311.84999999999997 H727.4 V539.0 H417.5 Z" fill="none" stroke="#1e1e1e" stroke-width="1.2"/>
<line x1="417.50" y1="539.0" x2="417.50" y2="543.5" stroke="#1e1e1e" stroke-width="1.2"/>
<line x1="469.15" y1="539.0" x2="469.15" y2="543.5" stroke="#1e1e1e" stroke-width="1.2"/>
<line x1="520.80" y1="539.0" x2="520.80" y2="543.5" stroke="#1e1e1e" stroke-width="1.2"/>
<line x1="572.45" y1="539.0" x2="572.45" y2="543.5" stroke="#1e1e1e" stroke-width="1.2"/>
<line x1="624.10" y1="539.0" x2="624.10" y2="543.5" stroke="#1e1e1e" stroke-width="1.2"/>
<line x1="675.75" y1="539.0" x2="675.75" y2="543.5" stroke="#1e1e1e" stroke-width="1.2"/>
<line x1="727.40" y1="539.0" x2="727.40" y2="543.5" stroke="#1e1e1e" stroke-width="1.2"/>
<line x1="443.32" y1="539.0" x2="443.32" y2="541.8" stroke="#1e1e1e" stroke-width="1.2"/>
<line x1="494.98" y1="539.0" x2="494.98" y2="541.8" stroke="#1e1e1e" stroke-width="1.2"/>
<line x1="546.62" y1="539.0" x2="546.62" y2="541.8" stroke="#1e1e1e" stroke-width="1.2"/>
<line x1="598.27" y1="539.0" x2="598.27" y2="541.8" stroke="#1e1e1e" stroke-width="1.2"/>
<line x1="649.92" y1="539.0" x2="649.92" y2="541.8" stroke="#1e1e1e" stroke-width="1.2"/>
<line x1="701.58" y1="539.0" x2="701.58" y2="541.8" stroke="#1e1e1e" stroke-width="1.2"/>
<line x1="413.0" y1="539.00" x2="417.5" y2="539.00" stroke="#1e1e1e" stroke-width="1.2"/>
<line x1="413.0" y1="506.55" x2="417.5" y2="506.55" stroke="#1e1e1e" stroke-width="1.2"/>
<line x1="413.0" y1="474.10" x2="417.5" y2="474.10" stroke="#1e1e1e" stroke-width="1.2"/>
<line x1="413.0" y1="441.65" x2="417.5" y2="441.65" stroke="#1e1e1e" stroke-width="1.2"/>
<line x1="413.0" y1="409.20" x2="417.5" y2="409.20" stroke="#1e1e1e" stroke-width="1.2"/>
<line x1="413.0" y1="376.75" x2="417.5" y2="376.75" stroke="#1e1e1e" stroke-width="1.2"/>
<line x1="413.0" y1="344.30" x2="417.5" y2="344.30" stroke="#1e1e1e" stroke-width="1.2"/>
<line x1="413.0" y1="311.85" x2="417.5" y2="311.85" stroke="#1e1e1e" stroke-width="1.2"/>
<line x1="414.7" y1="522.77" x2="417.5" y2="522.77" stroke="#1e1e1e" stroke-width="1.2"/>
<line x1="414.7" y1="490.32" x2="417.5" y2="490.32" stroke="#1e1e1e" stroke-width="1.2"/>
<line x1="414.7" y1="457.88" x2="417.5" y2="457.88" stroke="#1e1e1e" stroke-width="1.2"/>
<line x1="414.7" y1="425.42" x2="417.5" y2="425.42" stroke="#1e1e1e" stroke-width="1.2"/>
<line x1="414.7" y1="392.98" x2="417.5" y2="392.98" stroke="#1e1e1e" stroke-width="1.2"/>
<line x1="414.7" y1="360.52" x2="417.5" y2="360.52" stroke="#1e1e1e" stroke-width="1.2"/>
<line x1="414.7" y1="328.07" x2="417.5" y2="328.07" stroke="#1e1e1e" stroke-width="1.2"/>
<text x="417.50" y="557.40" text-anchor="middle" style="font-family:'Liberation Sans',sans-serif;font-size:13px" fill="#1a1a1a">40</text>
<text x="469.15" y="557.40" text-anchor="middle" style="font-family:'Liberation Sans',sans-serif;font-size:13px" fill="#1a1a1a">60</text>
<text x="520.80" y="557.40" text-anchor="middle" style="font-family:'Liberation Sans',sans-serif;font-size:13px" fill="#1a1a1a">80</text>
<text x="572.45" y="557.40" text-anchor="middle" style="font-family:'Liberation Sans',sans-serif;font-size:13px" fill="#1a1a1a">100</text>
<text x="624.10" y="557.40" text-anchor="middle" style="font-family:'Liberation Sans',sans-serif;font-size:13px" fill="#1a1a1a">120</text>
<text x="675.75" y="557.40" text-anchor="middle" style="font-family:'Liberation Sans',sans-serif;font-size:13px" fill="#1a1a1a">140</text>
<text x="727.40" y="557.40" text-anchor="middle" style="font-family:'Liberation Sans',sans-serif;font-size:13px" fill="#1a1a1a">160</text>
<text x="409.70" y="542.90" text-anchor="end" style="font-family:'Liberation Sans',sans-serif;font-size:13px" fill="#1a1a1a">0</text>
<text x="409.70" y="510.45" text-anchor="end" style="font-family:'Liberation Sans',sans-serif;font-size:13px" fill="#1a1a1a">1</text>
<text x="409.70" y="478.00" text-anchor="end" style="font-family:'Liberation Sans',sans-serif;font-size:13px" fill="#1a1a1a">2</text>
<text x="409.70" y="445.55" text-anchor="end" style="font-family:'Liberation Sans',sans-serif;font-size:13px" fill="#1a1a1a">3</text>
<text x="409.70" y="413.10" text-anchor="end" style="font-family:'Liberation Sans',sans-serif;font-size:13px" fill="#1a1a1a">4</text>
<text x="409.70" y="380.65" text-anchor="end" style="font-family:'Liberation Sans',sans-serif;font-size:13px" fill="#1a1a1a">5</text>
<text x="409.70" y="348.20" text-anchor="end" style="font-family:'Liberation Sans',sans-serif;font-size:13px" fill="#1a1a1a">6</text>
<text x="409.70" y="315.75" text-anchor="end" style="font-family:'Liberation Sans',sans-serif;font-size:13px" fill="#1a1a1a">7</text>
<text transform="translate(388.60,517.20) rotate(-90)" style="font-family:'Liberation Sans',sans-serif;font-size:16.6px" fill="#1a1a1a">Temperature change (K)</text>
<text x="495.40" y="578.30" style="font-family:'Liberation Sans',sans-serif;font-size:16.6px" fill="#1a1a1a">Initial temperature (K)</text>
<text x="699.00" y="332.00" style="font-family:'Liberation Sans',sans-serif;font-size:17.5px;letter-spacing:1.1px;stroke-width:0.12px" fill="#1a1a1a">(d)</text>
<rect x="431.5" y="324.7" width="144.0" height="61.5" fill="#fff" stroke="#3a3a3a" stroke-width="1.0"/>
<line x1="443.3" y1="337.6" x2="476.8" y2="337.6" stroke="#dc5252" stroke-width="2.1"/>
<text x="480.00" y="343.30" style="font-family:'Liberation Serif',serif;stroke-width:0.05px;font-size:14px" fill="#1a1a1a">From Eq. (12)</text>
<path d="M455.40,353.10 H464.40 L459.90,360.90 Z" fill="none" stroke="#2323e6" stroke-width="1.2"/>
<text x="480.00" y="361.00" style="font-family:'Liberation Serif',serif;stroke-width:0.05px;font-size:14px" fill="#1a1a1a">From Eq. (17)</text>
<line x1="443.3" y1="372.8" x2="476.8" y2="372.8" stroke="#000" stroke-width="2" stroke-dasharray="4 3.3"/>
<text x="480.00" y="378.50" style="font-family:'Liberation Serif',serif;stroke-width:0.05px;font-size:14px" fill="#1a1a1a">Using Eq. (13)</text>
</svg>
</body></html>
